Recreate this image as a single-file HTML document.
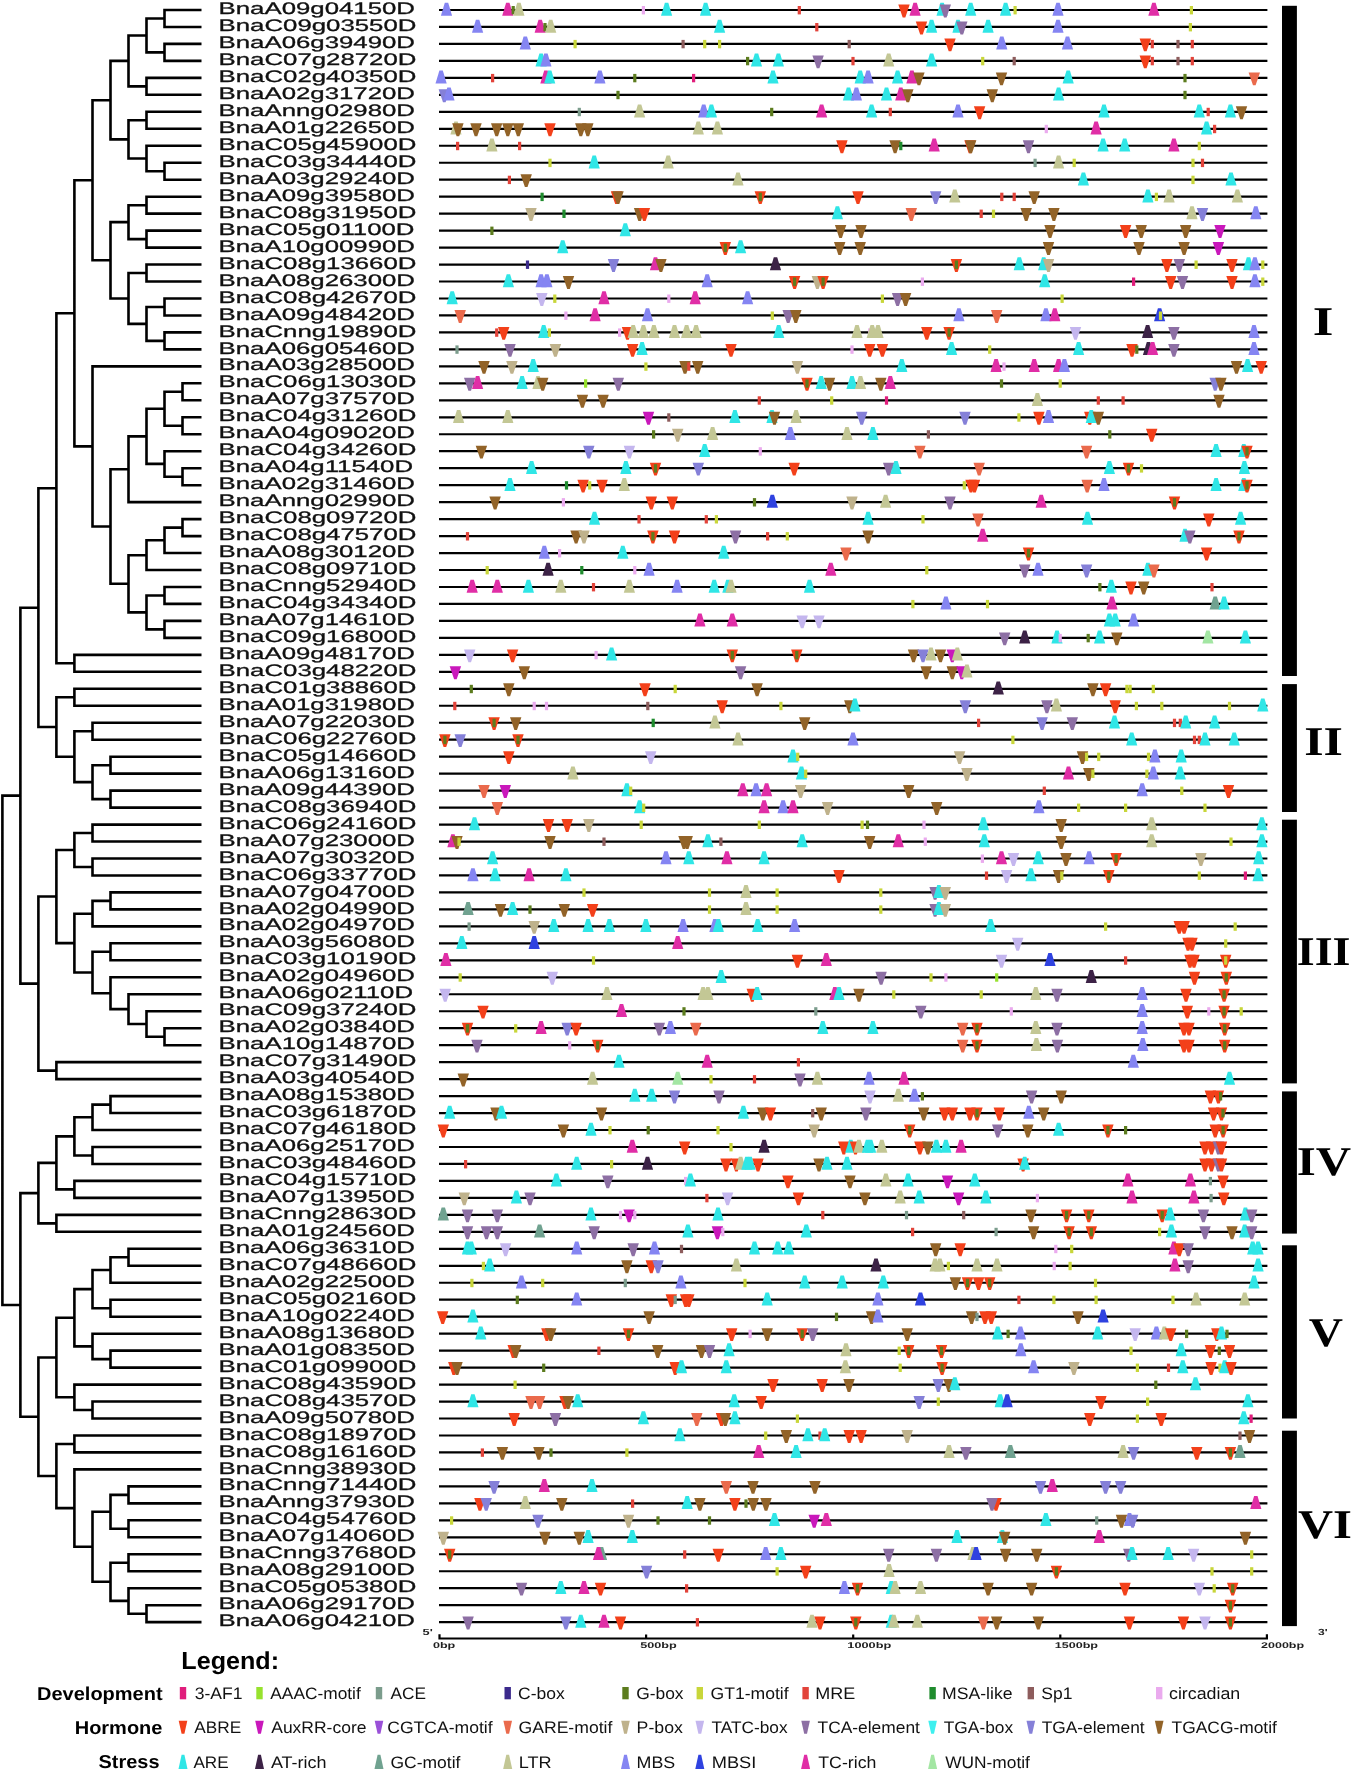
<!DOCTYPE html><html><head><meta charset="utf-8"><title>cis-elements</title>
<style>html,body{margin:0;padding:0;background:#fff;}body{width:1354px;height:1772px;overflow:hidden;}svg{display:block;font-family:"Liberation Sans",sans-serif;will-change:transform;text-rendering:geometricPrecision;}.n{font-size:16.7px;fill:#111;stroke:#111;stroke-width:0.3px;}.rn{font-family:"Liberation Serif",serif;font-weight:bold;fill:#000;}.ax{font-weight:bold;fill:#222;}.lg{fill:#111;}.lh{font-weight:bold;fill:#000;}</style></head><body>
<svg width="1354" height="1772" viewBox="0 0 1354 1772">
<path d="M163.2 10.0H201.5M163.2 27.0H201.5M164.5 8.7V28.3M145.2 18.5H164.5M163.2 43.9H201.5M163.2 60.9H201.5M164.5 42.6V62.2M145.2 52.4H164.5M146.5 17.2V53.7M127.2 35.5H146.5M145.2 77.9H201.5M145.2 94.8H201.5M146.5 76.6V96.1M127.2 86.4H146.5M128.5 34.2V87.7M109.2 60.9H128.5M145.2 111.8H201.5M145.2 128.8H201.5M146.5 110.5V130.1M127.2 120.3H146.5M145.2 145.8H201.5M163.2 162.7H201.5M163.2 179.7H201.5M164.5 161.4V181.0M145.2 171.2H164.5M146.5 144.5V172.5M127.2 158.5H146.5M128.5 119.0V159.8M109.2 139.4H128.5M110.5 59.6V140.7M91.2 100.2H110.5M145.2 196.7H201.5M145.2 213.6H201.5M146.5 195.4V214.9M127.2 205.2H146.5M145.2 230.6H201.5M145.2 247.6H201.5M146.5 229.3V248.9M127.2 239.1H146.5M128.5 203.9V240.4M109.2 222.1H128.5M145.2 264.5H201.5M145.2 281.5H201.5M146.5 263.2V282.8M127.2 273.0H146.5M163.2 298.5H201.5M163.2 315.5H201.5M164.5 297.2V316.8M145.2 307.0H164.5M163.2 332.4H201.5M163.2 349.4H201.5M164.5 331.1V350.7M145.2 340.9H164.5M146.5 305.7V342.2M127.2 323.9H146.5M128.5 271.7V325.2M109.2 298.5H128.5M110.5 220.8V299.8M91.2 260.3H110.5M92.5 98.9V261.6M73.1 180.2H92.5M91.2 366.4H201.5M181.2 383.3H201.5M181.2 400.3H201.5M182.5 382.0V401.6M163.2 391.8H182.5M181.2 417.3H201.5M181.2 434.2H201.5M182.5 416.0V435.6M163.2 425.8H182.5M164.5 390.5V427.1M145.2 408.8H164.5M163.2 451.2H201.5M181.2 468.2H201.5M181.2 485.2H201.5M182.5 466.9V486.5M163.2 476.7H182.5M164.5 449.9V478.0M145.2 463.9H164.5M146.5 407.5V465.2M127.2 436.4H146.5M127.2 502.1H201.5M128.5 435.1V503.4M109.2 469.3H128.5M181.2 519.1H201.5M181.2 536.1H201.5M182.5 517.8V537.4M163.2 527.6H182.5M163.2 553.0H201.5M164.5 526.3V554.3M145.2 540.3H164.5M145.2 570.0H201.5M146.5 539.0V571.3M127.2 555.2H146.5M163.2 587.0H201.5M163.2 603.9H201.5M164.5 585.7V605.2M145.2 595.5H164.5M163.2 620.9H201.5M163.2 637.9H201.5M164.5 619.6V639.2M145.2 629.4H164.5M146.5 594.2V630.7M127.2 612.4H146.5M128.5 553.9V613.7M109.2 583.8H128.5M110.5 468.0V585.1M91.2 526.5H110.5M92.5 365.1V527.8M73.1 446.4H92.5M74.4 178.9V447.7M55.1 313.3H74.4M73.1 654.9H201.5M73.1 671.8H201.5M74.4 653.6V673.1M55.1 663.3H74.4M56.4 312.0V664.6M37.1 488.3H56.4M73.1 688.8H201.5M73.1 705.8H201.5M74.4 687.5V707.1M55.1 697.3H74.4M91.2 722.7H201.5M91.2 739.7H201.5M92.5 721.4V741.0M73.1 731.2H92.5M109.2 756.7H201.5M109.2 773.6H201.5M110.5 755.4V774.9M91.2 765.2H110.5M109.2 790.6H201.5M109.2 807.6H201.5M110.5 789.3V808.9M91.2 799.1H110.5M92.5 763.9V800.4M73.1 782.1H92.5M74.4 729.9V783.4M55.1 756.7H74.4M56.4 696.0V758.0M37.1 727.0H56.4M38.4 487.0V728.3M19.1 607.7H38.4M91.2 824.6H201.5M91.2 841.5H201.5M92.5 823.3V842.8M73.1 833.0H92.5M91.2 858.5H201.5M91.2 875.5H201.5M92.5 857.2V876.8M73.1 867.0H92.5M74.4 831.7V868.3M55.1 850.0H74.4M109.2 892.4H201.5M109.2 909.4H201.5M110.5 891.1V910.7M91.2 900.9H110.5M91.2 926.4H201.5M92.5 899.6V927.7M73.1 913.7H92.5M109.2 943.3H201.5M109.2 960.3H201.5M110.5 942.0V961.6M91.2 951.8H110.5M109.2 977.3H201.5M127.2 994.3H201.5M145.2 1011.2H201.5M163.2 1028.2H201.5M163.2 1045.2H201.5M164.5 1026.9V1046.5M145.2 1036.7H164.5M146.5 1009.9V1038.0M127.2 1024.0H146.5M128.5 993.0V1025.3M109.2 1009.1H128.5M110.5 976.0V1010.4M91.2 993.2H110.5M92.5 950.5V994.5M73.1 972.5H92.5M74.4 912.4V973.8M55.1 943.1H74.4M56.4 848.7V944.4M37.1 896.5H56.4M55.1 1062.1H201.5M55.1 1079.1H201.5M56.4 1060.8V1080.4M37.1 1070.6H56.4M38.4 895.2V1071.9M19.1 983.6H38.4M20.4 606.4V984.9M1.1 795.6H20.4M109.2 1096.1H201.5M109.2 1113.0H201.5M110.5 1094.8V1114.3M91.2 1104.6H110.5M91.2 1130.0H201.5M92.5 1103.3V1131.3M73.1 1117.3H92.5M91.2 1147.0H201.5M91.2 1164.0H201.5M92.5 1145.7V1165.3M73.1 1155.5H92.5M74.4 1116.0V1156.8M55.1 1136.4H74.4M73.1 1180.9H201.5M73.1 1197.9H201.5M74.4 1179.6V1199.2M55.1 1189.4H74.4M56.4 1135.1V1190.7M37.1 1162.9H56.4M55.1 1214.9H201.5M55.1 1231.8H201.5M56.4 1213.6V1233.1M37.1 1223.4H56.4M38.4 1161.6V1224.7M19.1 1193.1H38.4M127.2 1248.8H201.5M127.2 1265.8H201.5M128.5 1247.5V1267.1M109.2 1257.3H128.5M109.2 1282.8H201.5M110.5 1256.0V1284.0M91.2 1270.0H110.5M109.2 1299.7H201.5M109.2 1316.7H201.5M110.5 1298.4V1318.0M91.2 1308.2H110.5M92.5 1268.7V1309.5M73.1 1289.1H92.5M91.2 1333.7H201.5M109.2 1350.6H201.5M109.2 1367.6H201.5M110.5 1349.3V1368.9M91.2 1359.1H110.5M92.5 1332.4V1360.4M73.1 1346.4H92.5M74.4 1287.8V1347.7M55.1 1317.8H74.4M73.1 1384.6H201.5M91.2 1401.5H201.5M91.2 1418.5H201.5M92.5 1400.2V1419.8M73.1 1410.0H92.5M74.4 1383.3V1411.3M55.1 1397.3H74.4M56.4 1316.5V1398.6M37.1 1357.5H56.4M73.1 1435.5H201.5M73.1 1452.4H201.5M74.4 1434.2V1453.7M55.1 1444.0H74.4M73.1 1469.4H201.5M127.2 1486.4H201.5M127.2 1503.4H201.5M128.5 1485.1V1504.7M109.2 1494.9H128.5M127.2 1520.3H201.5M127.2 1537.3H201.5M128.5 1519.0V1538.6M109.2 1528.8H128.5M110.5 1493.6V1530.1M91.2 1511.8H110.5M127.2 1554.3H201.5M127.2 1571.2H201.5M128.5 1553.0V1572.5M109.2 1562.8H128.5M127.2 1588.2H201.5M145.2 1605.2H201.5M145.2 1622.1H201.5M146.5 1603.9V1623.4M127.2 1613.7H146.5M128.5 1586.9V1615.0M109.2 1600.9H128.5M110.5 1561.5V1602.2M91.2 1581.8H110.5M92.5 1510.5V1583.1M73.1 1546.8H92.5M74.4 1468.1V1548.1M55.1 1508.1H74.4M56.4 1442.7V1509.4M37.1 1476.0H56.4M38.4 1356.2V1477.3M19.1 1416.8H38.4M20.4 1191.8V1418.1M1.1 1305.0H20.4M2.4 794.3V1306.3" stroke="#000" stroke-width="2.6" fill="none"/>
<text class="n" transform="translate(218.54 14.10) scale(1.5454 1)">BnaA09g04150D</text>
<text class="n" transform="translate(218.54 31.07) scale(1.5454 1)">BnaC09g03550D</text>
<text class="n" transform="translate(218.54 48.04) scale(1.5454 1)">BnaA06g39490D</text>
<text class="n" transform="translate(218.54 65.01) scale(1.5454 1)">BnaC07g28720D</text>
<text class="n" transform="translate(218.54 81.98) scale(1.5454 1)">BnaC02g40350D</text>
<text class="n" transform="translate(218.54 98.95) scale(1.5454 1)">BnaA02g31720D</text>
<text class="n" transform="translate(218.54 115.92) scale(1.5454 1)">BnaAnng02980D</text>
<text class="n" transform="translate(218.54 132.89) scale(1.5454 1)">BnaA01g22650D</text>
<text class="n" transform="translate(218.54 149.86) scale(1.5454 1)">BnaC05g45900D</text>
<text class="n" transform="translate(218.54 166.83) scale(1.5454 1)">BnaC03g34440D</text>
<text class="n" transform="translate(218.54 183.80) scale(1.5454 1)">BnaA03g29240D</text>
<text class="n" transform="translate(218.54 200.77) scale(1.5454 1)">BnaA09g39580D</text>
<text class="n" transform="translate(218.54 217.74) scale(1.5454 1)">BnaC08g31950D</text>
<text class="n" transform="translate(218.54 234.71) scale(1.5454 1)">BnaC05g01100D</text>
<text class="n" transform="translate(218.54 251.68) scale(1.5454 1)">BnaA10g00990D</text>
<text class="n" transform="translate(218.54 268.65) scale(1.5454 1)">BnaC08g13660D</text>
<text class="n" transform="translate(218.54 285.62) scale(1.5454 1)">BnaA08g26300D</text>
<text class="n" transform="translate(218.54 302.59) scale(1.5454 1)">BnaC08g42670D</text>
<text class="n" transform="translate(218.54 319.56) scale(1.5454 1)">BnaA09g48420D</text>
<text class="n" transform="translate(218.54 336.53) scale(1.5454 1)">BnaCnng19890D</text>
<text class="n" transform="translate(218.54 353.50) scale(1.5454 1)">BnaA06g05460D</text>
<text class="n" transform="translate(218.54 370.47) scale(1.5454 1)">BnaA03g28500D</text>
<text class="n" transform="translate(218.54 387.44) scale(1.5454 1)">BnaC06g13030D</text>
<text class="n" transform="translate(218.54 404.41) scale(1.5454 1)">BnaA07g37570D</text>
<text class="n" transform="translate(218.54 421.38) scale(1.5454 1)">BnaC04g31260D</text>
<text class="n" transform="translate(218.54 438.35) scale(1.5454 1)">BnaA04g09020D</text>
<text class="n" transform="translate(218.54 455.32) scale(1.5454 1)">BnaC04g34260D</text>
<text class="n" transform="translate(218.54 472.29) scale(1.5454 1)">BnaA04g11540D</text>
<text class="n" transform="translate(218.54 489.26) scale(1.5454 1)">BnaA02g31460D</text>
<text class="n" transform="translate(218.54 506.23) scale(1.5454 1)">BnaAnng02990D</text>
<text class="n" transform="translate(218.54 523.20) scale(1.5454 1)">BnaC08g09720D</text>
<text class="n" transform="translate(218.54 540.17) scale(1.5454 1)">BnaC08g47570D</text>
<text class="n" transform="translate(218.54 557.14) scale(1.5454 1)">BnaA08g30120D</text>
<text class="n" transform="translate(218.54 574.11) scale(1.5454 1)">BnaC08g09710D</text>
<text class="n" transform="translate(218.54 591.08) scale(1.5454 1)">BnaCnng52940D</text>
<text class="n" transform="translate(218.54 608.05) scale(1.5454 1)">BnaC04g34340D</text>
<text class="n" transform="translate(218.54 625.02) scale(1.5454 1)">BnaA07g14610D</text>
<text class="n" transform="translate(218.54 641.99) scale(1.5454 1)">BnaC09g16800D</text>
<text class="n" transform="translate(218.54 658.96) scale(1.5454 1)">BnaA09g48170D</text>
<text class="n" transform="translate(218.54 675.93) scale(1.5454 1)">BnaC03g48220D</text>
<text class="n" transform="translate(218.54 692.90) scale(1.5454 1)">BnaC01g38860D</text>
<text class="n" transform="translate(218.54 709.87) scale(1.5454 1)">BnaA01g31980D</text>
<text class="n" transform="translate(218.54 726.84) scale(1.5454 1)">BnaA07g22030D</text>
<text class="n" transform="translate(218.54 743.81) scale(1.5454 1)">BnaC06g22760D</text>
<text class="n" transform="translate(218.54 760.78) scale(1.5454 1)">BnaC05g14660D</text>
<text class="n" transform="translate(218.54 777.75) scale(1.5454 1)">BnaA06g13160D</text>
<text class="n" transform="translate(218.54 794.72) scale(1.5454 1)">BnaA09g44390D</text>
<text class="n" transform="translate(218.54 811.69) scale(1.5454 1)">BnaC08g36940D</text>
<text class="n" transform="translate(218.54 828.66) scale(1.5454 1)">BnaC06g24160D</text>
<text class="n" transform="translate(218.54 845.63) scale(1.5454 1)">BnaA07g23000D</text>
<text class="n" transform="translate(218.54 862.60) scale(1.5454 1)">BnaA07g30320D</text>
<text class="n" transform="translate(218.54 879.57) scale(1.5454 1)">BnaC06g33770D</text>
<text class="n" transform="translate(218.54 896.54) scale(1.5454 1)">BnaA07g04700D</text>
<text class="n" transform="translate(218.54 913.51) scale(1.5454 1)">BnaA02g04990D</text>
<text class="n" transform="translate(218.54 930.48) scale(1.5454 1)">BnaA02g04970D</text>
<text class="n" transform="translate(218.54 947.45) scale(1.5454 1)">BnaA03g56080D</text>
<text class="n" transform="translate(218.54 964.42) scale(1.5454 1)">BnaC03g10190D</text>
<text class="n" transform="translate(218.54 981.39) scale(1.5454 1)">BnaA02g04960D</text>
<text class="n" transform="translate(218.54 998.36) scale(1.5454 1)">BnaA06g02110D</text>
<text class="n" transform="translate(218.54 1015.33) scale(1.5454 1)">BnaC09g37240D</text>
<text class="n" transform="translate(218.54 1032.30) scale(1.5454 1)">BnaA02g03840D</text>
<text class="n" transform="translate(218.54 1049.27) scale(1.5454 1)">BnaA10g14870D</text>
<text class="n" transform="translate(218.54 1066.24) scale(1.5454 1)">BnaC07g31490D</text>
<text class="n" transform="translate(218.54 1083.21) scale(1.5454 1)">BnaA03g40540D</text>
<text class="n" transform="translate(218.54 1100.18) scale(1.5454 1)">BnaA08g15380D</text>
<text class="n" transform="translate(218.54 1117.15) scale(1.5454 1)">BnaC03g61870D</text>
<text class="n" transform="translate(218.54 1134.12) scale(1.5454 1)">BnaC07g46180D</text>
<text class="n" transform="translate(218.54 1151.09) scale(1.5454 1)">BnaA06g25170D</text>
<text class="n" transform="translate(218.54 1168.06) scale(1.5454 1)">BnaC03g48460D</text>
<text class="n" transform="translate(218.54 1185.03) scale(1.5454 1)">BnaC04g15710D</text>
<text class="n" transform="translate(218.54 1202.00) scale(1.5454 1)">BnaA07g13950D</text>
<text class="n" transform="translate(218.54 1218.97) scale(1.5454 1)">BnaCnng28630D</text>
<text class="n" transform="translate(218.54 1235.94) scale(1.5454 1)">BnaA01g24560D</text>
<text class="n" transform="translate(218.54 1252.91) scale(1.5454 1)">BnaA06g36310D</text>
<text class="n" transform="translate(218.54 1269.88) scale(1.5454 1)">BnaC07g48660D</text>
<text class="n" transform="translate(218.54 1286.85) scale(1.5454 1)">BnaA02g22500D</text>
<text class="n" transform="translate(218.54 1303.82) scale(1.5454 1)">BnaC05g02160D</text>
<text class="n" transform="translate(218.54 1320.79) scale(1.5454 1)">BnaA10g02240D</text>
<text class="n" transform="translate(218.54 1337.76) scale(1.5454 1)">BnaA08g13680D</text>
<text class="n" transform="translate(218.54 1354.73) scale(1.5454 1)">BnaA01g08350D</text>
<text class="n" transform="translate(218.54 1371.70) scale(1.5454 1)">BnaC01g09900D</text>
<text class="n" transform="translate(218.54 1388.67) scale(1.5454 1)">BnaC08g43590D</text>
<text class="n" transform="translate(218.54 1405.64) scale(1.5454 1)">BnaC08g43570D</text>
<text class="n" transform="translate(218.54 1422.61) scale(1.5454 1)">BnaA09g50780D</text>
<text class="n" transform="translate(218.54 1439.58) scale(1.5454 1)">BnaC08g18970D</text>
<text class="n" transform="translate(218.54 1456.55) scale(1.5454 1)">BnaC08g16160D</text>
<text class="n" transform="translate(218.54 1473.52) scale(1.5454 1)">BnaCnng38930D</text>
<text class="n" transform="translate(218.54 1490.49) scale(1.5454 1)">BnaCnng71440D</text>
<text class="n" transform="translate(218.54 1507.46) scale(1.5454 1)">BnaAnng37930D</text>
<text class="n" transform="translate(218.54 1524.43) scale(1.5454 1)">BnaC04g54760D</text>
<text class="n" transform="translate(218.54 1541.40) scale(1.5454 1)">BnaA07g14060D</text>
<text class="n" transform="translate(218.54 1558.37) scale(1.5454 1)">BnaCnng37680D</text>
<text class="n" transform="translate(218.54 1575.34) scale(1.5454 1)">BnaA08g29100D</text>
<text class="n" transform="translate(218.54 1592.31) scale(1.5454 1)">BnaC05g05380D</text>
<text class="n" transform="translate(218.54 1609.28) scale(1.5454 1)">BnaA06g29170D</text>
<text class="n" transform="translate(218.54 1626.25) scale(1.5454 1)">BnaA06g04210D</text>
<path d="M439.0 10.00H1267.4M439.0 26.97H1267.4M439.0 43.94H1267.4M439.0 60.91H1267.4M439.0 77.88H1267.4M439.0 94.85H1267.4M439.0 111.82H1267.4M439.0 128.79H1267.4M439.0 145.76H1267.4M439.0 162.73H1267.4M439.0 179.70H1267.4M439.0 196.67H1267.4M439.0 213.64H1267.4M439.0 230.61H1267.4M439.0 247.58H1267.4M439.0 264.55H1267.4M439.0 281.52H1267.4M439.0 298.49H1267.4M439.0 315.46H1267.4M439.0 332.43H1267.4M439.0 349.40H1267.4M439.0 366.37H1267.4M439.0 383.34H1267.4M439.0 400.31H1267.4M439.0 417.28H1267.4M439.0 434.25H1267.4M439.0 451.22H1267.4M439.0 468.19H1267.4M439.0 485.16H1267.4M439.0 502.13H1267.4M439.0 519.10H1267.4M439.0 536.07H1267.4M439.0 553.04H1267.4M439.0 570.01H1267.4M439.0 586.98H1267.4M439.0 603.95H1267.4M439.0 620.92H1267.4M439.0 637.89H1267.4M439.0 654.86H1267.4M439.0 671.83H1267.4M439.0 688.80H1267.4M439.0 705.77H1267.4M439.0 722.74H1267.4M439.0 739.71H1267.4M439.0 756.68H1267.4M439.0 773.65H1267.4M439.0 790.62H1267.4M439.0 807.59H1267.4M439.0 824.56H1267.4M439.0 841.53H1267.4M439.0 858.50H1267.4M439.0 875.47H1267.4M439.0 892.44H1267.4M439.0 909.41H1267.4M439.0 926.38H1267.4M439.0 943.35H1267.4M439.0 960.32H1267.4M439.0 977.29H1267.4M439.0 994.26H1267.4M439.0 1011.23H1267.4M439.0 1028.20H1267.4M439.0 1045.17H1267.4M439.0 1062.14H1267.4M439.0 1079.11H1267.4M439.0 1096.08H1267.4M439.0 1113.05H1267.4M439.0 1130.02H1267.4M439.0 1146.99H1267.4M439.0 1163.96H1267.4M439.0 1180.93H1267.4M439.0 1197.90H1267.4M439.0 1214.87H1267.4M439.0 1231.84H1267.4M439.0 1248.81H1267.4M439.0 1265.78H1267.4M439.0 1282.75H1267.4M439.0 1299.72H1267.4M439.0 1316.69H1267.4M439.0 1333.66H1267.4M439.0 1350.63H1267.4M439.0 1367.60H1267.4M439.0 1384.57H1267.4M439.0 1401.54H1267.4M439.0 1418.51H1267.4M439.0 1435.48H1267.4M439.0 1452.45H1267.4M439.0 1469.42H1267.4M439.0 1486.39H1267.4M439.0 1503.36H1267.4M439.0 1520.33H1267.4M439.0 1537.30H1267.4M439.0 1554.27H1267.4M439.0 1571.24H1267.4M439.0 1588.21H1267.4M439.0 1605.18H1267.4M439.0 1622.15H1267.4" stroke="#000" stroke-width="2.2" fill="none"/>
<path d="M444.8 2.7h3.4l3.9 13h-11.2z" fill="#8585f2"/>
<path d="M506.1 2.7h3.4l3.9 13h-11.2z" fill="#e02ea6"/>
<rect x="511.6" y="6.0" width="3.2" height="8.4" fill="#5c7c1e"/>
<path d="M517.2 2.7h3.4l3.9 13h-11.2z" fill="#c3c795"/>
<rect x="641.8" y="6.0" width="3.2" height="8.4" fill="#eaaaee"/>
<path d="M664.9 2.7h3.4l3.9 13h-11.2z" fill="#30e6e6"/>
<path d="M703.9 2.7h3.4l3.9 13h-11.2z" fill="#30e6e6"/>
<rect x="797.7" y="6.0" width="3.2" height="8.4" fill="#e2433a"/>
<path d="M898.3 4.5h11.4l-4.4 12.9h-2.6z" fill="#f3401a"/>
<path d="M913.4 2.7h3.4l3.9 13h-11.2z" fill="#e02ea6"/>
<path d="M940.4 2.7h3.4l3.9 13h-11.2z" fill="#30e6e6"/>
<path d="M939.6 4.5h11.4l-4.4 12.9h-2.6z" fill="#8d6fa4"/>
<path d="M969.0 2.7h3.4l3.9 13h-11.2z" fill="#30e6e6"/>
<path d="M1003.9 2.7h3.4l3.9 13h-11.2z" fill="#30e6e6"/>
<rect x="1013.5" y="6.0" width="3.2" height="8.4" fill="#c8d63a"/>
<path d="M1056.3 2.7h3.4l3.9 13h-11.2z" fill="#8585f2"/>
<path d="M1152.2 2.7h3.4l3.9 13h-11.2z" fill="#e02ea6"/>
<rect x="1189.8" y="6.0" width="3.2" height="8.4" fill="#c8d63a"/>
<path d="M475.9 19.7h3.4l3.9 13h-11.2z" fill="#8585f2"/>
<path d="M538.5 19.7h3.4l3.9 13h-11.2z" fill="#e02ea6"/>
<rect x="543.4" y="23.0" width="3.2" height="8.4" fill="#5c7c1e"/>
<path d="M549.0 19.7h3.4l3.9 13h-11.2z" fill="#c3c795"/>
<path d="M717.9 19.7h3.4l3.9 13h-11.2z" fill="#30e6e6"/>
<rect x="815.2" y="23.0" width="3.2" height="8.4" fill="#e2433a"/>
<path d="M915.8 21.5h11.4l-4.4 12.9h-2.6z" fill="#f3401a"/>
<path d="M929.9 19.7h3.4l3.9 13h-11.2z" fill="#30e6e6"/>
<path d="M956.3 19.7h3.4l3.9 13h-11.2z" fill="#30e6e6"/>
<path d="M956.1 21.5h11.4l-4.4 12.9h-2.6z" fill="#8d6fa4"/>
<path d="M986.4 19.7h3.4l3.9 13h-11.2z" fill="#30e6e6"/>
<path d="M1056.3 19.7h3.4l3.9 13h-11.2z" fill="#8585f2"/>
<rect x="1188.8" y="23.0" width="3.2" height="8.4" fill="#c8d63a"/>
<path d="M523.6 36.6h3.4l3.9 13h-11.2z" fill="#8585f2"/>
<rect x="573.5" y="39.9" width="3.2" height="8.4" fill="#c8d63a"/>
<rect x="681.5" y="39.9" width="3.2" height="8.4" fill="#8d5c5c"/>
<rect x="703.1" y="39.9" width="3.2" height="8.4" fill="#c8d63a"/>
<rect x="718.0" y="39.9" width="3.2" height="8.4" fill="#c8d63a"/>
<rect x="847.6" y="39.9" width="3.2" height="8.4" fill="#8d5c5c"/>
<path d="M944.3 38.4h11.4l-4.4 12.9h-2.6z" fill="#f3401a"/>
<path d="M1000.1 36.6h3.4l3.9 13h-11.2z" fill="#8585f2"/>
<path d="M1065.8 36.6h3.4l3.9 13h-11.2z" fill="#8585f2"/>
<path d="M1139.6 38.4h11.4l-4.4 12.9h-2.6z" fill="#f3401a"/>
<rect x="1150.7" y="39.9" width="3.2" height="8.4" fill="#e2433a"/>
<rect x="1176.4" y="39.9" width="3.2" height="8.4" fill="#8d5c5c"/>
<rect x="1190.7" y="39.9" width="3.2" height="8.4" fill="#e2433a"/>
<path d="M539.4 53.6h3.4l3.9 13h-11.2z" fill="#30e6e6"/>
<path d="M544.2 53.6h3.4l3.9 13h-11.2z" fill="#8585f2"/>
<rect x="746.0" y="56.9" width="3.2" height="8.4" fill="#5c7c1e"/>
<path d="M754.8 53.6h3.4l3.9 13h-11.2z" fill="#30e6e6"/>
<path d="M776.7 53.6h3.4l3.9 13h-11.2z" fill="#30e6e6"/>
<path d="M812.4 55.4h11.4l-4.4 12.9h-2.6z" fill="#8d6fa4"/>
<rect x="851.4" y="56.9" width="3.2" height="8.4" fill="#e2433a"/>
<path d="M887.0 53.6h3.4l3.9 13h-11.2z" fill="#c3c795"/>
<path d="M929.9 53.6h3.4l3.9 13h-11.2z" fill="#30e6e6"/>
<rect x="981.1" y="56.9" width="3.2" height="8.4" fill="#c8d63a"/>
<rect x="1012.6" y="56.9" width="3.2" height="8.4" fill="#8d5c5c"/>
<path d="M1139.6 55.4h11.4l-4.4 12.9h-2.6z" fill="#f3401a"/>
<rect x="1150.7" y="56.9" width="3.2" height="8.4" fill="#e2433a"/>
<rect x="1176.4" y="56.9" width="3.2" height="8.4" fill="#8d5c5c"/>
<rect x="1190.7" y="56.9" width="3.2" height="8.4" fill="#e2433a"/>
<path d="M439.4 70.6h3.4l3.9 13h-11.2z" fill="#8585f2"/>
<rect x="491.0" y="73.9" width="3.2" height="8.4" fill="#e2433a"/>
<path d="M544.2 70.6h3.4l3.9 13h-11.2z" fill="#e02ea6"/>
<path d="M548.0 70.6h3.4l3.9 13h-11.2z" fill="#30e6e6"/>
<path d="M598.2 70.6h3.4l3.9 13h-11.2z" fill="#8585f2"/>
<rect x="633.2" y="73.9" width="3.2" height="8.4" fill="#5c7c1e"/>
<rect x="692.0" y="73.9" width="3.2" height="8.4" fill="#e01e7c"/>
<path d="M771.3 70.6h3.4l3.9 13h-11.2z" fill="#30e6e6"/>
<path d="M858.5 70.6h3.4l3.9 13h-11.2z" fill="#30e6e6"/>
<path d="M866.4 70.6h3.4l3.9 13h-11.2z" fill="#8585f2"/>
<path d="M895.9 70.6h3.4l3.9 13h-11.2z" fill="#30e6e6"/>
<path d="M910.2 70.6h3.4l3.9 13h-11.2z" fill="#e02ea6"/>
<path d="M913.2 72.4h11.4l-4.4 12.9h-2.6z" fill="#926328"/>
<path d="M995.8 72.4h11.4l-4.4 12.9h-2.6z" fill="#926328"/>
<path d="M1066.5 70.6h3.4l3.9 13h-11.2z" fill="#30e6e6"/>
<rect x="1183.4" y="73.9" width="3.2" height="8.4" fill="#5c7c1e"/>
<path d="M1248.6 72.4h11.4l-4.4 12.9h-2.6z" fill="#ea6a4c"/>
<path d="M438.6 89.3h11.4l-4.4 12.9h-2.6z" fill="#8580d8"/>
<path d="M447.3 87.5h3.4l3.9 13h-11.2z" fill="#8585f2"/>
<rect x="616.4" y="90.8" width="3.2" height="8.4" fill="#5c7c1e"/>
<path d="M846.8 87.5h3.4l3.9 13h-11.2z" fill="#30e6e6"/>
<path d="M854.7 87.5h3.4l3.9 13h-11.2z" fill="#8585f2"/>
<path d="M884.8 87.5h3.4l3.9 13h-11.2z" fill="#30e6e6"/>
<path d="M899.1 87.5h3.4l3.9 13h-11.2z" fill="#e02ea6"/>
<path d="M902.1 89.3h11.4l-4.4 12.9h-2.6z" fill="#926328"/>
<path d="M986.6 89.3h11.4l-4.4 12.9h-2.6z" fill="#926328"/>
<path d="M1056.9 87.5h3.4l3.9 13h-11.2z" fill="#30e6e6"/>
<rect x="1183.4" y="90.8" width="3.2" height="8.4" fill="#5c7c1e"/>
<rect x="577.7" y="107.8" width="3.2" height="8.4" fill="#7b9c8c"/>
<path d="M637.9 104.5h3.4l3.9 13h-11.2z" fill="#c3c795"/>
<path d="M702.0 104.5h3.4l3.9 13h-11.2z" fill="#8585f2"/>
<path d="M709.7 104.5h3.4l3.9 13h-11.2z" fill="#30e6e6"/>
<rect x="770.1" y="107.8" width="3.2" height="8.4" fill="#5c7c1e"/>
<path d="M819.9 104.5h3.4l3.9 13h-11.2z" fill="#e02ea6"/>
<path d="M869.9 104.5h3.4l3.9 13h-11.2z" fill="#30e6e6"/>
<rect x="888.7" y="107.8" width="3.2" height="8.4" fill="#e2433a"/>
<path d="M956.3 104.5h3.4l3.9 13h-11.2z" fill="#8585f2"/>
<path d="M973.9 106.3h11.4l-4.4 12.9h-2.6z" fill="#f3401a"/>
<path d="M1102.3 104.5h3.4l3.9 13h-11.2z" fill="#30e6e6"/>
<path d="M1197.6 104.5h3.4l3.9 13h-11.2z" fill="#30e6e6"/>
<rect x="1206.6" y="107.8" width="3.2" height="8.4" fill="#e2433a"/>
<path d="M1228.7 104.5h3.4l3.9 13h-11.2z" fill="#30e6e6"/>
<path d="M1235.8 106.3h11.4l-4.4 12.9h-2.6z" fill="#926328"/>
<path d="M454.3 121.5h3.4l3.9 13h-11.2z" fill="#c3c795"/>
<path d="M452.2 123.3h11.4l-4.4 12.9h-2.6z" fill="#926328"/>
<path d="M470.3 123.3h11.4l-4.4 12.9h-2.6z" fill="#926328"/>
<path d="M491.0 123.3h11.4l-4.4 12.9h-2.6z" fill="#926328"/>
<path d="M502.1 123.3h11.4l-4.4 12.9h-2.6z" fill="#926328"/>
<path d="M512.6 123.3h11.4l-4.4 12.9h-2.6z" fill="#926328"/>
<path d="M544.3 123.3h11.4l-4.4 12.9h-2.6z" fill="#f3401a"/>
<path d="M575.1 123.3h11.4l-4.4 12.9h-2.6z" fill="#926328"/>
<path d="M582.1 123.3h11.4l-4.4 12.9h-2.6z" fill="#926328"/>
<path d="M696.6 121.5h3.4l3.9 13h-11.2z" fill="#c3c795"/>
<path d="M715.7 121.5h3.4l3.9 13h-11.2z" fill="#c3c795"/>
<rect x="1044.7" y="124.8" width="3.2" height="8.4" fill="#eaaaee"/>
<path d="M1094.4 121.5h3.4l3.9 13h-11.2z" fill="#e02ea6"/>
<path d="M1204.9 121.5h3.4l3.9 13h-11.2z" fill="#30e6e6"/>
<rect x="1213.0" y="124.8" width="3.2" height="8.4" fill="#e2433a"/>
<rect x="456.0" y="141.8" width="3.2" height="8.4" fill="#e2433a"/>
<path d="M490.2 138.5h3.4l3.9 13h-11.2z" fill="#c3c795"/>
<rect x="518.0" y="141.8" width="3.2" height="8.4" fill="#e2433a"/>
<path d="M836.2 140.3h11.4l-4.4 12.9h-2.6z" fill="#f3401a"/>
<path d="M889.4 140.3h11.4l-4.4 12.9h-2.6z" fill="#926328"/>
<rect x="899.2" y="141.8" width="3.2" height="8.4" fill="#1f8c2e"/>
<path d="M932.5 138.5h3.4l3.9 13h-11.2z" fill="#e02ea6"/>
<path d="M964.3 140.3h11.4l-4.4 12.9h-2.6z" fill="#f3401a"/>
<path d="M965.0 140.3h11.4l-4.4 12.9h-2.6z" fill="#926328"/>
<path d="M1022.8 140.3h11.4l-4.4 12.9h-2.6z" fill="#8d6fa4"/>
<path d="M1101.4 138.5h3.4l3.9 13h-11.2z" fill="#30e6e6"/>
<path d="M1123.0 138.5h3.4l3.9 13h-11.2z" fill="#30e6e6"/>
<path d="M1172.2 138.5h3.4l3.9 13h-11.2z" fill="#e02ea6"/>
<rect x="1197.7" y="141.8" width="3.2" height="8.4" fill="#c8d63a"/>
<rect x="548.4" y="158.7" width="3.2" height="8.4" fill="#c8d63a"/>
<path d="M592.5 155.4h3.4l3.9 13h-11.2z" fill="#30e6e6"/>
<path d="M666.5 155.4h3.4l3.9 13h-11.2z" fill="#c3c795"/>
<rect x="1033.5" y="158.7" width="3.2" height="8.4" fill="#7b9c8c"/>
<path d="M1056.9 155.4h3.4l3.9 13h-11.2z" fill="#c3c795"/>
<rect x="1072.6" y="158.7" width="3.2" height="8.4" fill="#c8d63a"/>
<rect x="1191.4" y="158.7" width="3.2" height="8.4" fill="#c8d63a"/>
<rect x="1200.9" y="158.7" width="3.2" height="8.4" fill="#e2433a"/>
<rect x="507.8" y="175.7" width="3.2" height="8.4" fill="#e2433a"/>
<path d="M520.5 174.2h11.4l-4.4 12.9h-2.6z" fill="#926328"/>
<path d="M736.3 172.4h3.4l3.9 13h-11.2z" fill="#c3c795"/>
<path d="M1081.7 172.4h3.4l3.9 13h-11.2z" fill="#30e6e6"/>
<rect x="1191.4" y="175.7" width="3.2" height="8.4" fill="#c8d63a"/>
<path d="M1229.3 172.4h3.4l3.9 13h-11.2z" fill="#30e6e6"/>
<rect x="540.5" y="192.7" width="3.2" height="8.4" fill="#1f8c2e"/>
<path d="M610.8 191.2h11.4l-4.4 12.9h-2.6z" fill="#f3401a"/>
<path d="M612.3 191.2h11.4l-4.4 12.9h-2.6z" fill="#926328"/>
<path d="M754.6 191.2h11.4l-4.4 12.9h-2.6z" fill="#f3401a"/>
<rect x="758.7" y="192.7" width="3.2" height="8.4" fill="#5c7c1e"/>
<path d="M852.3 191.2h11.4l-4.4 12.9h-2.6z" fill="#f3401a"/>
<path d="M930.0 191.2h11.4l-4.4 12.9h-2.6z" fill="#8580d8"/>
<path d="M953.1 189.4h3.4l3.9 13h-11.2z" fill="#c3c795"/>
<rect x="1000.2" y="192.7" width="3.2" height="8.4" fill="#e2433a"/>
<rect x="1012.6" y="192.7" width="3.2" height="8.4" fill="#e2433a"/>
<path d="M1028.5 191.2h11.4l-4.4 12.9h-2.6z" fill="#926328"/>
<path d="M1146.2 189.4h3.4l3.9 13h-11.2z" fill="#30e6e6"/>
<rect x="1154.8" y="192.7" width="3.2" height="8.4" fill="#c8d63a"/>
<path d="M1167.4 189.4h3.4l3.9 13h-11.2z" fill="#c3c795"/>
<path d="M1235.7 189.4h3.4l3.9 13h-11.2z" fill="#c3c795"/>
<path d="M525.3 208.1h11.4l-4.4 12.9h-2.6z" fill="#bfb28c"/>
<rect x="562.4" y="209.6" width="3.2" height="8.4" fill="#1f8c2e"/>
<path d="M633.9 208.1h11.4l-4.4 12.9h-2.6z" fill="#926328"/>
<path d="M638.7 208.1h11.4l-4.4 12.9h-2.6z" fill="#f3401a"/>
<path d="M835.7 206.3h3.4l3.9 13h-11.2z" fill="#30e6e6"/>
<path d="M905.6 208.1h11.4l-4.4 12.9h-2.6z" fill="#ea6a4c"/>
<rect x="979.6" y="209.6" width="3.2" height="8.4" fill="#e2433a"/>
<rect x="991.9" y="209.6" width="3.2" height="8.4" fill="#c8d63a"/>
<path d="M1020.5 208.1h11.4l-4.4 12.9h-2.6z" fill="#926328"/>
<path d="M1048.2 208.1h11.4l-4.4 12.9h-2.6z" fill="#926328"/>
<path d="M1190.3 206.3h3.4l3.9 13h-11.2z" fill="#c3c795"/>
<path d="M1196.8 208.1h11.4l-4.4 12.9h-2.6z" fill="#8580d8"/>
<path d="M1254.1 206.3h3.4l3.9 13h-11.2z" fill="#8585f2"/>
<rect x="490.3" y="226.6" width="3.2" height="8.4" fill="#5c7c1e"/>
<path d="M623.6 223.3h3.4l3.9 13h-11.2z" fill="#30e6e6"/>
<path d="M834.9 225.1h11.4l-4.4 12.9h-2.6z" fill="#926328"/>
<path d="M855.3 225.1h11.4l-4.4 12.9h-2.6z" fill="#926328"/>
<path d="M1044.3 225.1h11.4l-4.4 12.9h-2.6z" fill="#926328"/>
<path d="M1119.9 225.1h11.4l-4.4 12.9h-2.6z" fill="#f3401a"/>
<path d="M1135.5 225.1h11.4l-4.4 12.9h-2.6z" fill="#926328"/>
<path d="M1180.0 225.1h11.4l-4.4 12.9h-2.6z" fill="#926328"/>
<path d="M1214.3 225.1h11.4l-4.4 12.9h-2.6z" fill="#c918bb"/>
<path d="M561.0 240.3h3.4l3.9 13h-11.2z" fill="#30e6e6"/>
<path d="M719.6 242.1h11.4l-4.4 12.9h-2.6z" fill="#f3401a"/>
<rect x="723.7" y="243.6" width="3.2" height="8.4" fill="#5c7c1e"/>
<path d="M738.9 240.3h3.4l3.9 13h-11.2z" fill="#30e6e6"/>
<path d="M834.0 242.1h11.4l-4.4 12.9h-2.6z" fill="#926328"/>
<path d="M854.5 242.1h11.4l-4.4 12.9h-2.6z" fill="#926328"/>
<path d="M1042.8 242.1h11.4l-4.4 12.9h-2.6z" fill="#926328"/>
<path d="M1133.3 242.1h11.4l-4.4 12.9h-2.6z" fill="#926328"/>
<path d="M1178.4 242.1h11.4l-4.4 12.9h-2.6z" fill="#926328"/>
<path d="M1212.7 242.1h11.4l-4.4 12.9h-2.6z" fill="#c918bb"/>
<rect x="525.9" y="260.5" width="3.2" height="8.4" fill="#3b2a8c"/>
<path d="M607.8 259.0h11.4l-4.4 12.9h-2.6z" fill="#8580d8"/>
<path d="M653.8 257.2h3.4l3.9 13h-11.2z" fill="#e02ea6"/>
<path d="M655.2 259.0h11.4l-4.4 12.9h-2.6z" fill="#926328"/>
<path d="M773.8 257.2h3.4l3.9 13h-11.2z" fill="#3c2246"/>
<path d="M950.7 259.0h11.4l-4.4 12.9h-2.6z" fill="#f3401a"/>
<rect x="954.8" y="260.5" width="3.2" height="8.4" fill="#5c7c1e"/>
<path d="M1017.6 257.2h3.4l3.9 13h-11.2z" fill="#30e6e6"/>
<path d="M1042.0 257.2h3.4l3.9 13h-11.2z" fill="#30e6e6"/>
<path d="M1042.8 259.0h11.4l-4.4 12.9h-2.6z" fill="#bfb28c"/>
<path d="M1161.2 259.0h11.4l-4.4 12.9h-2.6z" fill="#f3401a"/>
<path d="M1173.6 259.0h11.4l-4.4 12.9h-2.6z" fill="#8d6fa4"/>
<rect x="1194.5" y="260.5" width="3.2" height="8.4" fill="#c8d63a"/>
<path d="M1226.3 259.0h11.4l-4.4 12.9h-2.6z" fill="#f3401a"/>
<path d="M1246.8 257.2h3.4l3.9 13h-11.2z" fill="#30e6e6"/>
<path d="M1253.2 257.2h3.4l3.9 13h-11.2z" fill="#8585f2"/>
<rect x="1261.2" y="260.5" width="3.2" height="8.4" fill="#c8d63a"/>
<path d="M506.7 274.2h3.4l3.9 13h-11.2z" fill="#30e6e6"/>
<path d="M539.4 274.2h3.4l3.9 13h-11.2z" fill="#8585f2"/>
<path d="M545.2 274.2h3.4l3.9 13h-11.2z" fill="#8585f2"/>
<path d="M562.8 276.0h11.4l-4.4 12.9h-2.6z" fill="#926328"/>
<path d="M705.5 274.2h3.4l3.9 13h-11.2z" fill="#8585f2"/>
<path d="M788.9 276.0h11.4l-4.4 12.9h-2.6z" fill="#f3401a"/>
<rect x="793.0" y="277.5" width="3.2" height="8.4" fill="#5c7c1e"/>
<path d="M811.7 276.0h11.4l-4.4 12.9h-2.6z" fill="#bfb28c"/>
<path d="M817.4 276.0h11.4l-4.4 12.9h-2.6z" fill="#f3401a"/>
<rect x="821.5" y="277.5" width="3.2" height="8.4" fill="#5c7c1e"/>
<rect x="920.8" y="277.5" width="3.2" height="8.4" fill="#eaaaee"/>
<path d="M1043.0 274.2h3.4l3.9 13h-11.2z" fill="#30e6e6"/>
<rect x="1132.0" y="277.5" width="3.2" height="8.4" fill="#e01e7c"/>
<path d="M1165.0 276.0h11.4l-4.4 12.9h-2.6z" fill="#f3401a"/>
<path d="M1176.8 276.0h11.4l-4.4 12.9h-2.6z" fill="#8d6fa4"/>
<path d="M1226.3 276.0h11.4l-4.4 12.9h-2.6z" fill="#f3401a"/>
<path d="M1253.2 274.2h3.4l3.9 13h-11.2z" fill="#8585f2"/>
<rect x="1261.2" y="277.5" width="3.2" height="8.4" fill="#c8d63a"/>
<path d="M450.5 291.2h3.4l3.9 13h-11.2z" fill="#30e6e6"/>
<path d="M536.1 293.0h11.4l-4.4 12.9h-2.6z" fill="#c4b6ee"/>
<rect x="553.2" y="294.5" width="3.2" height="8.4" fill="#c8d63a"/>
<path d="M602.3 291.2h3.4l3.9 13h-11.2z" fill="#e02ea6"/>
<rect x="667.2" y="294.5" width="3.2" height="8.4" fill="#eaaaee"/>
<path d="M693.5 291.2h3.4l3.9 13h-11.2z" fill="#e02ea6"/>
<path d="M745.9 291.2h3.4l3.9 13h-11.2z" fill="#8585f2"/>
<rect x="880.8" y="294.5" width="3.2" height="8.4" fill="#c8d63a"/>
<path d="M891.9 293.0h11.4l-4.4 12.9h-2.6z" fill="#8d6fa4"/>
<path d="M899.9 293.0h11.4l-4.4 12.9h-2.6z" fill="#926328"/>
<rect x="1060.5" y="294.5" width="3.2" height="8.4" fill="#c8d63a"/>
<path d="M454.5 310.0h11.4l-4.4 12.9h-2.6z" fill="#ea6a4c"/>
<rect x="564.3" y="311.5" width="3.2" height="8.4" fill="#eaaaee"/>
<path d="M593.4 308.2h3.4l3.9 13h-11.2z" fill="#e02ea6"/>
<path d="M645.8 308.2h3.4l3.9 13h-11.2z" fill="#8585f2"/>
<rect x="770.7" y="311.5" width="3.2" height="8.4" fill="#c8d63a"/>
<path d="M782.5 310.0h11.4l-4.4 12.9h-2.6z" fill="#8d6fa4"/>
<path d="M790.1 310.0h11.4l-4.4 12.9h-2.6z" fill="#926328"/>
<path d="M957.2 308.2h3.4l3.9 13h-11.2z" fill="#8585f2"/>
<path d="M991.0 310.0h11.4l-4.4 12.9h-2.6z" fill="#ea6a4c"/>
<path d="M1044.2 308.2h3.4l3.9 13h-11.2z" fill="#8585f2"/>
<path d="M1053.1 308.2h3.4l3.9 13h-11.2z" fill="#e02ea6"/>
<path d="M1157.9 308.2h3.4l3.9 13h-11.2z" fill="#2f42e0"/>
<rect x="1158.9" y="311.5" width="3.2" height="8.4" fill="#c8d63a"/>
<rect x="495.1" y="328.4" width="3.2" height="8.4" fill="#e2433a"/>
<path d="M498.0 326.9h11.4l-4.4 12.9h-2.6z" fill="#f3401a"/>
<path d="M542.0 325.1h3.4l3.9 13h-11.2z" fill="#30e6e6"/>
<rect x="547.8" y="328.4" width="3.2" height="8.4" fill="#c8d63a"/>
<rect x="618.0" y="328.4" width="3.2" height="8.4" fill="#eaaaee"/>
<path d="M621.8 326.9h11.4l-4.4 12.9h-2.6z" fill="#f3401a"/>
<path d="M631.5 325.1h3.4l3.9 13h-11.2z" fill="#c3c795"/>
<path d="M641.7 325.1h3.4l3.9 13h-11.2z" fill="#c3c795"/>
<path d="M652.2 325.1h3.4l3.9 13h-11.2z" fill="#c3c795"/>
<path d="M672.8 325.1h3.4l3.9 13h-11.2z" fill="#c3c795"/>
<path d="M684.9 325.1h3.4l3.9 13h-11.2z" fill="#c3c795"/>
<path d="M694.4 325.1h3.4l3.9 13h-11.2z" fill="#c3c795"/>
<path d="M777.0 325.1h3.4l3.9 13h-11.2z" fill="#30e6e6"/>
<path d="M855.3 325.1h3.4l3.9 13h-11.2z" fill="#c3c795"/>
<rect x="868.1" y="328.4" width="3.2" height="8.4" fill="#eaaaee"/>
<path d="M870.5 325.1h3.4l3.9 13h-11.2z" fill="#c3c795"/>
<path d="M876.3 325.1h3.4l3.9 13h-11.2z" fill="#c3c795"/>
<path d="M921.1 326.9h11.4l-4.4 12.9h-2.6z" fill="#f3401a"/>
<path d="M943.4 326.9h11.4l-4.4 12.9h-2.6z" fill="#f3401a"/>
<rect x="947.5" y="328.4" width="3.2" height="8.4" fill="#5c7c1e"/>
<path d="M1069.8 326.9h11.4l-4.4 12.9h-2.6z" fill="#c4b6ee"/>
<path d="M1145.9 325.1h3.4l3.9 13h-11.2z" fill="#3c2246"/>
<path d="M1168.2 326.9h11.4l-4.4 12.9h-2.6z" fill="#8d6fa4"/>
<path d="M1252.3 325.1h3.4l3.9 13h-11.2z" fill="#8585f2"/>
<rect x="455.4" y="345.4" width="3.2" height="8.4" fill="#7b9c8c"/>
<path d="M504.3 343.9h11.4l-4.4 12.9h-2.6z" fill="#8d6fa4"/>
<path d="M549.7 343.9h11.4l-4.4 12.9h-2.6z" fill="#bfb28c"/>
<path d="M626.9 343.9h11.4l-4.4 12.9h-2.6z" fill="#f3401a"/>
<path d="M640.4 342.1h3.4l3.9 13h-11.2z" fill="#30e6e6"/>
<path d="M725.3 343.9h11.4l-4.4 12.9h-2.6z" fill="#f3401a"/>
<rect x="850.4" y="345.4" width="3.2" height="8.4" fill="#eaaaee"/>
<path d="M864.0 343.9h11.4l-4.4 12.9h-2.6z" fill="#f3401a"/>
<path d="M876.7 343.9h11.4l-4.4 12.9h-2.6z" fill="#f3401a"/>
<path d="M949.9 342.1h3.4l3.9 13h-11.2z" fill="#30e6e6"/>
<rect x="988.1" y="345.4" width="3.2" height="8.4" fill="#c8d63a"/>
<path d="M1076.9 342.1h3.4l3.9 13h-11.2z" fill="#30e6e6"/>
<path d="M1126.3 343.9h11.4l-4.4 12.9h-2.6z" fill="#f3401a"/>
<rect x="1135.2" y="345.4" width="3.2" height="8.4" fill="#5c7c1e"/>
<path d="M1146.8 342.1h3.4l3.9 13h-11.2z" fill="#3c2246"/>
<path d="M1150.9 342.1h3.4l3.9 13h-11.2z" fill="#e02ea6"/>
<path d="M1168.2 343.9h11.4l-4.4 12.9h-2.6z" fill="#8d6fa4"/>
<path d="M1252.3 342.1h3.4l3.9 13h-11.2z" fill="#8585f2"/>
<path d="M478.3 360.9h11.4l-4.4 12.9h-2.6z" fill="#926328"/>
<path d="M506.2 360.9h11.4l-4.4 12.9h-2.6z" fill="#bfb28c"/>
<path d="M531.5 359.1h3.4l3.9 13h-11.2z" fill="#30e6e6"/>
<rect x="644.3" y="362.4" width="3.2" height="8.4" fill="#c8d63a"/>
<path d="M679.3 360.9h11.4l-4.4 12.9h-2.6z" fill="#926328"/>
<rect x="687.2" y="362.4" width="3.2" height="8.4" fill="#e2433a"/>
<path d="M692.0 360.9h11.4l-4.4 12.9h-2.6z" fill="#926328"/>
<path d="M791.7 360.9h11.4l-4.4 12.9h-2.6z" fill="#bfb28c"/>
<path d="M900.1 359.1h3.4l3.9 13h-11.2z" fill="#30e6e6"/>
<path d="M994.4 359.1h3.4l3.9 13h-11.2z" fill="#e02ea6"/>
<rect x="1002.4" y="362.4" width="3.2" height="8.4" fill="#eaaaee"/>
<path d="M1032.5 359.1h3.4l3.9 13h-11.2z" fill="#e02ea6"/>
<path d="M1056.9 359.1h3.4l3.9 13h-11.2z" fill="#e02ea6"/>
<path d="M1062.7 359.1h3.4l3.9 13h-11.2z" fill="#8585f2"/>
<path d="M1230.8 360.9h11.4l-4.4 12.9h-2.6z" fill="#926328"/>
<path d="M1245.9 359.1h3.4l3.9 13h-11.2z" fill="#30e6e6"/>
<path d="M1255.5 360.9h11.4l-4.4 12.9h-2.6z" fill="#f3401a"/>
<path d="M464.0 377.8h11.4l-4.4 12.9h-2.6z" fill="#8d6fa4"/>
<path d="M475.9 376.0h3.4l3.9 13h-11.2z" fill="#e02ea6"/>
<path d="M520.4 376.0h3.4l3.9 13h-11.2z" fill="#30e6e6"/>
<path d="M536.3 376.0h3.4l3.9 13h-11.2z" fill="#c3c795"/>
<path d="M537.0 377.8h11.4l-4.4 12.9h-2.6z" fill="#926328"/>
<rect x="584.0" y="379.3" width="3.2" height="8.4" fill="#97e22e"/>
<path d="M612.6 377.8h11.4l-4.4 12.9h-2.6z" fill="#8d6fa4"/>
<path d="M801.3 377.8h11.4l-4.4 12.9h-2.6z" fill="#f3401a"/>
<rect x="805.4" y="379.3" width="3.2" height="8.4" fill="#5c7c1e"/>
<path d="M819.5 376.0h3.4l3.9 13h-11.2z" fill="#30e6e6"/>
<path d="M823.8 377.8h11.4l-4.4 12.9h-2.6z" fill="#926328"/>
<path d="M850.3 376.0h3.4l3.9 13h-11.2z" fill="#30e6e6"/>
<path d="M858.8 376.0h3.4l3.9 13h-11.2z" fill="#c3c795"/>
<path d="M875.1 377.8h11.4l-4.4 12.9h-2.6z" fill="#926328"/>
<path d="M888.6 376.0h3.4l3.9 13h-11.2z" fill="#e02ea6"/>
<rect x="999.9" y="379.3" width="3.2" height="8.4" fill="#5c7c1e"/>
<rect x="1058.6" y="379.3" width="3.2" height="8.4" fill="#c8d63a"/>
<path d="M1209.5 377.8h11.4l-4.4 12.9h-2.6z" fill="#8580d8"/>
<path d="M1215.2 377.8h11.4l-4.4 12.9h-2.6z" fill="#926328"/>
<path d="M576.7 394.8h11.4l-4.4 12.9h-2.6z" fill="#926328"/>
<path d="M597.4 394.8h11.4l-4.4 12.9h-2.6z" fill="#926328"/>
<rect x="757.7" y="396.3" width="3.2" height="8.4" fill="#e2433a"/>
<rect x="830.1" y="396.3" width="3.2" height="8.4" fill="#c8d63a"/>
<rect x="884.9" y="396.3" width="3.2" height="8.4" fill="#e01e7c"/>
<path d="M1035.7 393.0h3.4l3.9 13h-11.2z" fill="#c3c795"/>
<rect x="1096.7" y="396.3" width="3.2" height="8.4" fill="#e2433a"/>
<rect x="1121.5" y="396.3" width="3.2" height="8.4" fill="#e2433a"/>
<path d="M1213.3 394.8h11.4l-4.4 12.9h-2.6z" fill="#926328"/>
<path d="M456.9 410.0h3.4l3.9 13h-11.2z" fill="#c3c795"/>
<path d="M506.1 410.0h3.4l3.9 13h-11.2z" fill="#c3c795"/>
<path d="M642.8 411.8h11.4l-4.4 12.9h-2.6z" fill="#c918bb"/>
<rect x="667.2" y="413.3" width="3.2" height="8.4" fill="#8d5c5c"/>
<path d="M733.2 410.0h3.4l3.9 13h-11.2z" fill="#30e6e6"/>
<path d="M770.3 410.0h3.4l3.9 13h-11.2z" fill="#30e6e6"/>
<path d="M768.8 411.8h11.4l-4.4 12.9h-2.6z" fill="#926328"/>
<path d="M794.4 410.0h3.4l3.9 13h-11.2z" fill="#c3c795"/>
<path d="M856.0 411.8h11.4l-4.4 12.9h-2.6z" fill="#8580d8"/>
<path d="M959.3 411.8h11.4l-4.4 12.9h-2.6z" fill="#8580d8"/>
<rect x="1017.3" y="413.3" width="3.2" height="8.4" fill="#c8d63a"/>
<path d="M1033.2 411.8h11.4l-4.4 12.9h-2.6z" fill="#f3401a"/>
<path d="M1046.8 410.0h3.4l3.9 13h-11.2z" fill="#8585f2"/>
<path d="M1084.1 411.8h11.4l-4.4 12.9h-2.6z" fill="#f3401a"/>
<path d="M1089.6 410.0h3.4l3.9 13h-11.2z" fill="#30e6e6"/>
<path d="M1092.6 411.8h11.4l-4.4 12.9h-2.6z" fill="#926328"/>
<rect x="652.0" y="430.2" width="3.2" height="8.4" fill="#5c7c1e"/>
<path d="M672.0 428.8h11.4l-4.4 12.9h-2.6z" fill="#bfb28c"/>
<path d="M710.9 426.9h3.4l3.9 13h-11.2z" fill="#c3c795"/>
<path d="M788.7 426.9h3.4l3.9 13h-11.2z" fill="#8585f2"/>
<path d="M845.3 426.9h3.4l3.9 13h-11.2z" fill="#c3c795"/>
<path d="M871.2 426.9h3.4l3.9 13h-11.2z" fill="#30e6e6"/>
<rect x="926.8" y="430.2" width="3.2" height="8.4" fill="#8d5c5c"/>
<rect x="1108.2" y="430.2" width="3.2" height="8.4" fill="#5c7c1e"/>
<path d="M1146.0 428.8h11.4l-4.4 12.9h-2.6z" fill="#f3401a"/>
<path d="M475.7 445.7h11.4l-4.4 12.9h-2.6z" fill="#926328"/>
<path d="M583.1 445.7h11.4l-4.4 12.9h-2.6z" fill="#8580d8"/>
<path d="M623.7 445.7h11.4l-4.4 12.9h-2.6z" fill="#c4b6ee"/>
<path d="M703.0 443.9h3.4l3.9 13h-11.2z" fill="#30e6e6"/>
<rect x="758.7" y="447.2" width="3.2" height="8.4" fill="#eaaaee"/>
<path d="M914.2 445.7h11.4l-4.4 12.9h-2.6z" fill="#ea6a4c"/>
<path d="M1080.9 445.7h11.4l-4.4 12.9h-2.6z" fill="#ea6a4c"/>
<path d="M1214.4 443.9h3.4l3.9 13h-11.2z" fill="#30e6e6"/>
<path d="M1242.1 443.9h3.4l3.9 13h-11.2z" fill="#30e6e6"/>
<path d="M1241.3 445.7h11.4l-4.4 12.9h-2.6z" fill="#f3401a"/>
<rect x="1245.4" y="447.2" width="3.2" height="8.4" fill="#5c7c1e"/>
<path d="M529.9 460.9h3.4l3.9 13h-11.2z" fill="#30e6e6"/>
<path d="M624.2 460.9h3.4l3.9 13h-11.2z" fill="#30e6e6"/>
<path d="M649.8 462.7h11.4l-4.4 12.9h-2.6z" fill="#f3401a"/>
<rect x="653.9" y="464.2" width="3.2" height="8.4" fill="#5c7c1e"/>
<path d="M692.6 462.7h11.4l-4.4 12.9h-2.6z" fill="#8580d8"/>
<path d="M788.5 462.7h11.4l-4.4 12.9h-2.6z" fill="#f3401a"/>
<path d="M883.0 462.7h11.4l-4.4 12.9h-2.6z" fill="#8d6fa4"/>
<path d="M894.3 460.9h3.4l3.9 13h-11.2z" fill="#30e6e6"/>
<path d="M973.5 462.7h11.4l-4.4 12.9h-2.6z" fill="#ea6a4c"/>
<path d="M1107.7 460.9h3.4l3.9 13h-11.2z" fill="#30e6e6"/>
<path d="M1122.8 462.7h11.4l-4.4 12.9h-2.6z" fill="#f3401a"/>
<rect x="1126.9" y="464.2" width="3.2" height="8.4" fill="#5c7c1e"/>
<rect x="1139.9" y="464.2" width="3.2" height="8.4" fill="#c8d63a"/>
<path d="M1242.7 460.9h3.4l3.9 13h-11.2z" fill="#30e6e6"/>
<path d="M508.3 477.9h3.4l3.9 13h-11.2z" fill="#30e6e6"/>
<rect x="564.9" y="481.2" width="3.2" height="8.4" fill="#1f8c2e"/>
<path d="M577.4 479.7h11.4l-4.4 12.9h-2.6z" fill="#f3401a"/>
<rect x="588.1" y="481.2" width="3.2" height="8.4" fill="#c8d63a"/>
<path d="M596.4 479.7h11.4l-4.4 12.9h-2.6z" fill="#f3401a"/>
<path d="M622.6 477.9h3.4l3.9 13h-11.2z" fill="#c3c795"/>
<rect x="962.7" y="481.2" width="3.2" height="8.4" fill="#c8d63a"/>
<path d="M965.3 479.7h11.4l-4.4 12.9h-2.6z" fill="#f3401a"/>
<path d="M968.8 479.7h11.4l-4.4 12.9h-2.6z" fill="#f3401a"/>
<path d="M1081.5 479.7h11.4l-4.4 12.9h-2.6z" fill="#ea6a4c"/>
<path d="M1102.3 477.9h3.4l3.9 13h-11.2z" fill="#8585f2"/>
<path d="M1214.4 477.9h3.4l3.9 13h-11.2z" fill="#30e6e6"/>
<path d="M1242.1 477.9h3.4l3.9 13h-11.2z" fill="#30e6e6"/>
<path d="M1241.3 479.7h11.4l-4.4 12.9h-2.6z" fill="#f3401a"/>
<rect x="1245.4" y="481.2" width="3.2" height="8.4" fill="#5c7c1e"/>
<path d="M489.4 496.6h11.4l-4.4 12.9h-2.6z" fill="#926328"/>
<rect x="561.8" y="498.1" width="3.2" height="8.4" fill="#eaaaee"/>
<path d="M645.6 496.6h11.4l-4.4 12.9h-2.6z" fill="#f3401a"/>
<path d="M666.6 496.6h11.4l-4.4 12.9h-2.6z" fill="#f3401a"/>
<rect x="752.9" y="498.1" width="3.2" height="8.4" fill="#5c7c1e"/>
<path d="M770.6 494.8h3.4l3.9 13h-11.2z" fill="#2f42e0"/>
<path d="M846.3 496.6h11.4l-4.4 12.9h-2.6z" fill="#bfb28c"/>
<path d="M883.9 494.8h3.4l3.9 13h-11.2z" fill="#c3c795"/>
<path d="M944.3 496.6h11.4l-4.4 12.9h-2.6z" fill="#8d6fa4"/>
<path d="M1039.5 494.8h3.4l3.9 13h-11.2z" fill="#e02ea6"/>
<path d="M1168.8 496.6h11.4l-4.4 12.9h-2.6z" fill="#f3401a"/>
<rect x="1172.9" y="498.1" width="3.2" height="8.4" fill="#5c7c1e"/>
<path d="M592.8 511.8h3.4l3.9 13h-11.2z" fill="#30e6e6"/>
<rect x="637.4" y="515.1" width="3.2" height="8.4" fill="#e2433a"/>
<rect x="704.7" y="515.1" width="3.2" height="8.4" fill="#e2433a"/>
<rect x="714.8" y="515.1" width="3.2" height="8.4" fill="#c8d63a"/>
<path d="M866.4 511.8h3.4l3.9 13h-11.2z" fill="#30e6e6"/>
<rect x="921.4" y="515.1" width="3.2" height="8.4" fill="#c8d63a"/>
<path d="M972.3 513.6h11.4l-4.4 12.9h-2.6z" fill="#ea6a4c"/>
<path d="M1085.8 511.8h3.4l3.9 13h-11.2z" fill="#30e6e6"/>
<path d="M1203.1 513.6h11.4l-4.4 12.9h-2.6z" fill="#f3401a"/>
<path d="M1238.9 511.8h3.4l3.9 13h-11.2z" fill="#30e6e6"/>
<rect x="465.9" y="532.1" width="3.2" height="8.4" fill="#e2433a"/>
<path d="M570.4 530.6h11.4l-4.4 12.9h-2.6z" fill="#926328"/>
<path d="M578.3 530.6h11.4l-4.4 12.9h-2.6z" fill="#bfb28c"/>
<path d="M647.2 530.6h11.4l-4.4 12.9h-2.6z" fill="#f3401a"/>
<rect x="651.3" y="532.1" width="3.2" height="8.4" fill="#5c7c1e"/>
<path d="M668.8 530.6h11.4l-4.4 12.9h-2.6z" fill="#f3401a"/>
<path d="M729.8 530.6h11.4l-4.4 12.9h-2.6z" fill="#8d6fa4"/>
<rect x="766.0" y="532.1" width="3.2" height="8.4" fill="#e2433a"/>
<rect x="785.7" y="532.1" width="3.2" height="8.4" fill="#c8d63a"/>
<path d="M862.4 530.6h11.4l-4.4 12.9h-2.6z" fill="#926328"/>
<path d="M981.0 528.8h3.4l3.9 13h-11.2z" fill="#e02ea6"/>
<path d="M1183.3 528.8h3.4l3.9 13h-11.2z" fill="#30e6e6"/>
<path d="M1184.1 530.6h11.4l-4.4 12.9h-2.6z" fill="#8d6fa4"/>
<path d="M1233.3 530.6h11.4l-4.4 12.9h-2.6z" fill="#f3401a"/>
<rect x="1237.4" y="532.1" width="3.2" height="8.4" fill="#5c7c1e"/>
<path d="M542.6 545.7h3.4l3.9 13h-11.2z" fill="#8585f2"/>
<rect x="558.0" y="549.0" width="3.2" height="8.4" fill="#eaaaee"/>
<path d="M621.1 545.7h3.4l3.9 13h-11.2z" fill="#30e6e6"/>
<path d="M722.0 545.7h3.4l3.9 13h-11.2z" fill="#30e6e6"/>
<path d="M840.3 547.5h11.4l-4.4 12.9h-2.6z" fill="#ea6a4c"/>
<path d="M1022.8 547.5h11.4l-4.4 12.9h-2.6z" fill="#f3401a"/>
<rect x="1026.9" y="549.0" width="3.2" height="8.4" fill="#5c7c1e"/>
<path d="M1200.9 547.5h11.4l-4.4 12.9h-2.6z" fill="#f3401a"/>
<rect x="485.6" y="566.0" width="3.2" height="8.4" fill="#c8d63a"/>
<path d="M546.4 562.7h3.4l3.9 13h-11.2z" fill="#3c2246"/>
<rect x="580.2" y="566.0" width="3.2" height="8.4" fill="#1f8c2e"/>
<rect x="633.2" y="566.0" width="3.2" height="8.4" fill="#eaaaee"/>
<path d="M647.4 562.7h3.4l3.9 13h-11.2z" fill="#8585f2"/>
<path d="M829.1 562.7h3.4l3.9 13h-11.2z" fill="#e02ea6"/>
<rect x="925.2" y="566.0" width="3.2" height="8.4" fill="#c8d63a"/>
<path d="M1019.0 564.5h11.4l-4.4 12.9h-2.6z" fill="#8d6fa4"/>
<path d="M1036.3 562.7h3.4l3.9 13h-11.2z" fill="#8585f2"/>
<path d="M1080.9 564.5h11.4l-4.4 12.9h-2.6z" fill="#8580d8"/>
<path d="M1146.2 562.7h3.4l3.9 13h-11.2z" fill="#30e6e6"/>
<path d="M1148.2 564.5h11.4l-4.4 12.9h-2.6z" fill="#ea6a4c"/>
<path d="M470.5 579.7h3.4l3.9 13h-11.2z" fill="#e02ea6"/>
<path d="M495.6 579.7h3.4l3.9 13h-11.2z" fill="#e02ea6"/>
<path d="M526.7 579.7h3.4l3.9 13h-11.2z" fill="#30e6e6"/>
<path d="M559.1 579.7h3.4l3.9 13h-11.2z" fill="#c3c795"/>
<rect x="591.9" y="583.0" width="3.2" height="8.4" fill="#e2433a"/>
<path d="M627.7 579.7h3.4l3.9 13h-11.2z" fill="#c3c795"/>
<path d="M675.4 579.7h3.4l3.9 13h-11.2z" fill="#8585f2"/>
<path d="M712.5 579.7h3.4l3.9 13h-11.2z" fill="#30e6e6"/>
<path d="M726.2 579.7h3.4l3.9 13h-11.2z" fill="#30e6e6"/>
<path d="M729.3 579.7h3.4l3.9 13h-11.2z" fill="#c3c795"/>
<path d="M807.8 579.7h3.4l3.9 13h-11.2z" fill="#30e6e6"/>
<rect x="1098.3" y="583.0" width="3.2" height="8.4" fill="#5c7c1e"/>
<path d="M1109.6 579.7h3.4l3.9 13h-11.2z" fill="#30e6e6"/>
<path d="M1125.3 581.5h11.4l-4.4 12.9h-2.6z" fill="#f3401a"/>
<path d="M1138.0 581.5h11.4l-4.4 12.9h-2.6z" fill="#926328"/>
<rect x="1210.4" y="583.0" width="3.2" height="8.4" fill="#e2433a"/>
<rect x="911.3" y="599.9" width="3.2" height="8.4" fill="#c8d63a"/>
<path d="M944.2 596.6h3.4l3.9 13h-11.2z" fill="#8585f2"/>
<rect x="985.9" y="599.9" width="3.2" height="8.4" fill="#c8d63a"/>
<path d="M1110.3 596.6h3.4l3.9 13h-11.2z" fill="#e02ea6"/>
<path d="M1213.5 596.6h3.4l3.9 13h-11.2z" fill="#70a290"/>
<path d="M1222.4 596.6h3.4l3.9 13h-11.2z" fill="#30e6e6"/>
<path d="M698.2 613.6h3.4l3.9 13h-11.2z" fill="#e02ea6"/>
<path d="M730.6 613.6h3.4l3.9 13h-11.2z" fill="#e02ea6"/>
<path d="M796.5 615.4h11.4l-4.4 12.9h-2.6z" fill="#c4b6ee"/>
<path d="M813.3 615.4h11.4l-4.4 12.9h-2.6z" fill="#c4b6ee"/>
<path d="M1107.7 613.6h3.4l3.9 13h-11.2z" fill="#30e6e6"/>
<path d="M1113.5 613.6h3.4l3.9 13h-11.2z" fill="#30e6e6"/>
<path d="M1131.9 613.6h3.4l3.9 13h-11.2z" fill="#8585f2"/>
<path d="M999.0 632.4h11.4l-4.4 12.9h-2.6z" fill="#8d6fa4"/>
<path d="M1023.0 630.6h3.4l3.9 13h-11.2z" fill="#3c2246"/>
<path d="M1055.3 630.6h3.4l3.9 13h-11.2z" fill="#30e6e6"/>
<rect x="1058.6" y="633.9" width="3.2" height="8.4" fill="#eaaaee"/>
<rect x="1086.6" y="633.9" width="3.2" height="8.4" fill="#5c7c1e"/>
<path d="M1097.9 630.6h3.4l3.9 13h-11.2z" fill="#30e6e6"/>
<path d="M1111.1 632.4h11.4l-4.4 12.9h-2.6z" fill="#926328"/>
<path d="M1206.2 630.6h3.4l3.9 13h-11.2z" fill="#a3e6a3"/>
<path d="M1243.7 630.6h3.4l3.9 13h-11.2z" fill="#30e6e6"/>
<path d="M464.0 649.4h11.4l-4.4 12.9h-2.6z" fill="#c4b6ee"/>
<path d="M506.9 649.4h11.4l-4.4 12.9h-2.6z" fill="#f3401a"/>
<rect x="594.5" y="650.9" width="3.2" height="8.4" fill="#eaaaee"/>
<path d="M609.9 647.6h3.4l3.9 13h-11.2z" fill="#30e6e6"/>
<path d="M726.6 649.4h11.4l-4.4 12.9h-2.6z" fill="#f3401a"/>
<rect x="730.7" y="650.9" width="3.2" height="8.4" fill="#5c7c1e"/>
<path d="M791.1 649.4h11.4l-4.4 12.9h-2.6z" fill="#f3401a"/>
<rect x="795.2" y="650.9" width="3.2" height="8.4" fill="#5c7c1e"/>
<path d="M907.8 649.4h11.4l-4.4 12.9h-2.6z" fill="#926328"/>
<path d="M917.3 649.4h11.4l-4.4 12.9h-2.6z" fill="#8580d8"/>
<path d="M929.3 647.6h3.4l3.9 13h-11.2z" fill="#c3c795"/>
<path d="M934.8 649.4h11.4l-4.4 12.9h-2.6z" fill="#926328"/>
<path d="M946.6 649.4h11.4l-4.4 12.9h-2.6z" fill="#c918bb"/>
<path d="M955.6 647.6h3.4l3.9 13h-11.2z" fill="#c3c795"/>
<path d="M449.7 666.3h11.4l-4.4 12.9h-2.6z" fill="#c918bb"/>
<path d="M518.6 666.3h11.4l-4.4 12.9h-2.6z" fill="#926328"/>
<path d="M734.9 666.3h11.4l-4.4 12.9h-2.6z" fill="#8d6fa4"/>
<path d="M920.5 666.3h11.4l-4.4 12.9h-2.6z" fill="#926328"/>
<path d="M946.6 666.3h11.4l-4.4 12.9h-2.6z" fill="#926328"/>
<path d="M956.1 666.3h11.4l-4.4 12.9h-2.6z" fill="#c918bb"/>
<path d="M965.2 664.5h3.4l3.9 13h-11.2z" fill="#c3c795"/>
<rect x="469.7" y="684.8" width="3.2" height="8.4" fill="#5c7c1e"/>
<path d="M503.1 683.3h11.4l-4.4 12.9h-2.6z" fill="#926328"/>
<path d="M639.3 683.3h11.4l-4.4 12.9h-2.6z" fill="#f3401a"/>
<rect x="673.6" y="684.8" width="3.2" height="8.4" fill="#c8d63a"/>
<path d="M751.4 683.3h11.4l-4.4 12.9h-2.6z" fill="#926328"/>
<path d="M996.6 681.5h3.4l3.9 13h-11.2z" fill="#3c2246"/>
<path d="M1087.2 683.3h11.4l-4.4 12.9h-2.6z" fill="#926328"/>
<path d="M1099.9 683.3h11.4l-4.4 12.9h-2.6z" fill="#f3401a"/>
<rect x="1125.3" y="684.8" width="3.2" height="8.4" fill="#c8d63a"/>
<rect x="1128.5" y="684.8" width="3.2" height="8.4" fill="#c8d63a"/>
<rect x="1151.7" y="684.8" width="3.2" height="8.4" fill="#c8d63a"/>
<rect x="453.2" y="701.8" width="3.2" height="8.4" fill="#e2433a"/>
<rect x="532.6" y="701.8" width="3.2" height="8.4" fill="#eaaaee"/>
<rect x="544.9" y="701.8" width="3.2" height="8.4" fill="#eaaaee"/>
<rect x="646.2" y="701.8" width="3.2" height="8.4" fill="#8d5c5c"/>
<path d="M716.5 700.3h11.4l-4.4 12.9h-2.6z" fill="#f3401a"/>
<rect x="779.3" y="701.8" width="3.2" height="8.4" fill="#c8d63a"/>
<path d="M844.1 700.3h11.4l-4.4 12.9h-2.6z" fill="#926328"/>
<path d="M853.2 698.5h3.4l3.9 13h-11.2z" fill="#30e6e6"/>
<path d="M959.6 700.3h11.4l-4.4 12.9h-2.6z" fill="#8580d8"/>
<path d="M1041.2 700.3h11.4l-4.4 12.9h-2.6z" fill="#8d6fa4"/>
<path d="M1054.7 698.5h3.4l3.9 13h-11.2z" fill="#c3c795"/>
<path d="M1109.5 700.3h11.4l-4.4 12.9h-2.6z" fill="#f3401a"/>
<rect x="1134.8" y="701.8" width="3.2" height="8.4" fill="#c8d63a"/>
<rect x="1160.2" y="701.8" width="3.2" height="8.4" fill="#c8d63a"/>
<rect x="1227.9" y="701.8" width="3.2" height="8.4" fill="#c8d63a"/>
<path d="M1261.1 698.5h3.4l3.9 13h-11.2z" fill="#30e6e6"/>
<path d="M488.4 717.2h11.4l-4.4 12.9h-2.6z" fill="#f3401a"/>
<rect x="492.5" y="718.7" width="3.2" height="8.4" fill="#5c7c1e"/>
<path d="M510.0 717.2h11.4l-4.4 12.9h-2.6z" fill="#926328"/>
<rect x="651.6" y="718.7" width="3.2" height="8.4" fill="#1f8c2e"/>
<path d="M713.2 715.4h3.4l3.9 13h-11.2z" fill="#c3c795"/>
<path d="M799.0 717.2h11.4l-4.4 12.9h-2.6z" fill="#926328"/>
<rect x="977.0" y="718.7" width="3.2" height="8.4" fill="#e2433a"/>
<path d="M1036.4 717.2h11.4l-4.4 12.9h-2.6z" fill="#8580d8"/>
<path d="M1066.6 717.2h11.4l-4.4 12.9h-2.6z" fill="#8d6fa4"/>
<path d="M1112.8 715.4h3.4l3.9 13h-11.2z" fill="#30e6e6"/>
<rect x="1172.9" y="718.7" width="3.2" height="8.4" fill="#e2433a"/>
<rect x="1178.7" y="718.7" width="3.2" height="8.4" fill="#e2433a"/>
<path d="M1184.0 715.4h3.4l3.9 13h-11.2z" fill="#30e6e6"/>
<path d="M1212.9 715.4h3.4l3.9 13h-11.2z" fill="#30e6e6"/>
<path d="M439.2 734.2h11.4l-4.4 12.9h-2.6z" fill="#f3401a"/>
<rect x="443.3" y="735.7" width="3.2" height="8.4" fill="#5c7c1e"/>
<path d="M454.5 734.2h11.4l-4.4 12.9h-2.6z" fill="#8580d8"/>
<path d="M512.3 734.2h11.4l-4.4 12.9h-2.6z" fill="#f3401a"/>
<rect x="516.4" y="735.7" width="3.2" height="8.4" fill="#5c7c1e"/>
<path d="M736.3 732.4h3.4l3.9 13h-11.2z" fill="#c3c795"/>
<path d="M851.3 732.4h3.4l3.9 13h-11.2z" fill="#8585f2"/>
<rect x="1011.3" y="735.7" width="3.2" height="8.4" fill="#c8d63a"/>
<path d="M1130.0 732.4h3.4l3.9 13h-11.2z" fill="#30e6e6"/>
<rect x="1192.9" y="735.7" width="3.2" height="8.4" fill="#e2433a"/>
<rect x="1197.7" y="735.7" width="3.2" height="8.4" fill="#e2433a"/>
<path d="M1203.3 732.4h3.4l3.9 13h-11.2z" fill="#30e6e6"/>
<path d="M1232.5 732.4h3.4l3.9 13h-11.2z" fill="#30e6e6"/>
<path d="M503.1 751.2h11.4l-4.4 12.9h-2.6z" fill="#f3401a"/>
<path d="M645.0 751.2h11.4l-4.4 12.9h-2.6z" fill="#c4b6ee"/>
<path d="M791.3 749.4h3.4l3.9 13h-11.2z" fill="#30e6e6"/>
<rect x="796.1" y="752.7" width="3.2" height="8.4" fill="#c8d63a"/>
<path d="M953.9 751.2h11.4l-4.4 12.9h-2.6z" fill="#bfb28c"/>
<path d="M1076.8 751.2h11.4l-4.4 12.9h-2.6z" fill="#926328"/>
<rect x="1085.0" y="752.7" width="3.2" height="8.4" fill="#c8d63a"/>
<rect x="1097.1" y="752.7" width="3.2" height="8.4" fill="#c8d63a"/>
<rect x="1146.9" y="752.7" width="3.2" height="8.4" fill="#c8d63a"/>
<path d="M1153.2 749.4h3.4l3.9 13h-11.2z" fill="#8585f2"/>
<path d="M1179.5 749.4h3.4l3.9 13h-11.2z" fill="#30e6e6"/>
<path d="M571.2 766.4h3.4l3.9 13h-11.2z" fill="#c3c795"/>
<path d="M799.8 766.4h3.4l3.9 13h-11.2z" fill="#30e6e6"/>
<rect x="804.1" y="769.6" width="3.2" height="8.4" fill="#c8d63a"/>
<path d="M961.2 768.1h11.4l-4.4 12.9h-2.6z" fill="#bfb28c"/>
<path d="M1066.8 766.4h3.4l3.9 13h-11.2z" fill="#e02ea6"/>
<path d="M1083.1 768.1h11.4l-4.4 12.9h-2.6z" fill="#926328"/>
<rect x="1091.3" y="769.6" width="3.2" height="8.4" fill="#c8d63a"/>
<rect x="1145.3" y="769.6" width="3.2" height="8.4" fill="#c8d63a"/>
<path d="M1151.6 766.4h3.4l3.9 13h-11.2z" fill="#8585f2"/>
<path d="M1178.6 766.4h3.4l3.9 13h-11.2z" fill="#30e6e6"/>
<path d="M478.3 785.1h11.4l-4.4 12.9h-2.6z" fill="#ea6a4c"/>
<path d="M499.6 785.1h11.4l-4.4 12.9h-2.6z" fill="#c918bb"/>
<path d="M625.2 783.3h3.4l3.9 13h-11.2z" fill="#30e6e6"/>
<rect x="629.1" y="786.6" width="3.2" height="8.4" fill="#c8d63a"/>
<path d="M741.1 783.3h3.4l3.9 13h-11.2z" fill="#e02ea6"/>
<path d="M754.4 783.3h3.4l3.9 13h-11.2z" fill="#8585f2"/>
<path d="M764.9 783.3h3.4l3.9 13h-11.2z" fill="#e02ea6"/>
<path d="M794.9 785.1h11.4l-4.4 12.9h-2.6z" fill="#bfb28c"/>
<path d="M903.0 785.1h11.4l-4.4 12.9h-2.6z" fill="#926328"/>
<rect x="1042.7" y="786.6" width="3.2" height="8.4" fill="#e2433a"/>
<path d="M1140.5 783.3h3.4l3.9 13h-11.2z" fill="#8585f2"/>
<rect x="1180.2" y="786.6" width="3.2" height="8.4" fill="#c8d63a"/>
<path d="M1222.8 785.1h11.4l-4.4 12.9h-2.6z" fill="#f3401a"/>
<path d="M491.6 802.1h11.4l-4.4 12.9h-2.6z" fill="#ea6a4c"/>
<path d="M637.9 800.3h3.4l3.9 13h-11.2z" fill="#30e6e6"/>
<rect x="642.1" y="803.6" width="3.2" height="8.4" fill="#c8d63a"/>
<path d="M762.4 800.3h3.4l3.9 13h-11.2z" fill="#e02ea6"/>
<path d="M781.4 800.3h3.4l3.9 13h-11.2z" fill="#8585f2"/>
<path d="M791.3 800.3h3.4l3.9 13h-11.2z" fill="#e02ea6"/>
<path d="M821.9 802.1h11.4l-4.4 12.9h-2.6z" fill="#bfb28c"/>
<path d="M931.0 802.1h11.4l-4.4 12.9h-2.6z" fill="#926328"/>
<path d="M1037.2 800.3h3.4l3.9 13h-11.2z" fill="#8585f2"/>
<rect x="1077.0" y="803.6" width="3.2" height="8.4" fill="#c8d63a"/>
<rect x="1124.0" y="803.6" width="3.2" height="8.4" fill="#c8d63a"/>
<rect x="1203.4" y="803.6" width="3.2" height="8.4" fill="#c8d63a"/>
<path d="M472.8 817.3h3.4l3.9 13h-11.2z" fill="#30e6e6"/>
<path d="M542.8 819.1h11.4l-4.4 12.9h-2.6z" fill="#f3401a"/>
<path d="M561.5 819.1h11.4l-4.4 12.9h-2.6z" fill="#f3401a"/>
<path d="M583.1 819.1h11.4l-4.4 12.9h-2.6z" fill="#bfb28c"/>
<rect x="639.6" y="820.6" width="3.2" height="8.4" fill="#c8d63a"/>
<rect x="757.7" y="820.6" width="3.2" height="8.4" fill="#c8d63a"/>
<rect x="860.5" y="820.6" width="3.2" height="8.4" fill="#c8d63a"/>
<rect x="865.9" y="820.6" width="3.2" height="8.4" fill="#5c7c1e"/>
<rect x="922.4" y="820.6" width="3.2" height="8.4" fill="#eaaaee"/>
<path d="M981.7 817.3h3.4l3.9 13h-11.2z" fill="#30e6e6"/>
<path d="M1055.5 819.1h11.4l-4.4 12.9h-2.6z" fill="#926328"/>
<path d="M1150.0 817.3h3.4l3.9 13h-11.2z" fill="#c3c795"/>
<path d="M1260.2 817.3h3.4l3.9 13h-11.2z" fill="#30e6e6"/>
<path d="M451.2 834.2h3.4l3.9 13h-11.2z" fill="#e02ea6"/>
<path d="M451.3 836.0h11.4l-4.4 12.9h-2.6z" fill="#926328"/>
<rect x="457.4" y="837.5" width="3.2" height="8.4" fill="#c8d63a"/>
<path d="M544.3 836.0h11.4l-4.4 12.9h-2.6z" fill="#926328"/>
<rect x="602.4" y="837.5" width="3.2" height="8.4" fill="#8d5c5c"/>
<path d="M678.3 836.0h11.4l-4.4 12.9h-2.6z" fill="#926328"/>
<path d="M681.5 836.0h11.4l-4.4 12.9h-2.6z" fill="#926328"/>
<path d="M706.2 834.2h3.4l3.9 13h-11.2z" fill="#30e6e6"/>
<rect x="719.3" y="837.5" width="3.2" height="8.4" fill="#8d5c5c"/>
<path d="M800.5 834.2h3.4l3.9 13h-11.2z" fill="#30e6e6"/>
<path d="M864.0 836.0h11.4l-4.4 12.9h-2.6z" fill="#926328"/>
<path d="M896.6 834.2h3.4l3.9 13h-11.2z" fill="#e02ea6"/>
<rect x="923.7" y="837.5" width="3.2" height="8.4" fill="#eaaaee"/>
<path d="M982.6 834.2h3.4l3.9 13h-11.2z" fill="#30e6e6"/>
<path d="M1055.5 836.0h11.4l-4.4 12.9h-2.6z" fill="#926328"/>
<path d="M1150.0 834.2h3.4l3.9 13h-11.2z" fill="#c3c795"/>
<rect x="1229.4" y="837.5" width="3.2" height="8.4" fill="#c8d63a"/>
<path d="M1260.2 834.2h3.4l3.9 13h-11.2z" fill="#30e6e6"/>
<path d="M490.9 851.2h3.4l3.9 13h-11.2z" fill="#30e6e6"/>
<path d="M664.3 851.2h3.4l3.9 13h-11.2z" fill="#8585f2"/>
<path d="M687.1 851.2h3.4l3.9 13h-11.2z" fill="#30e6e6"/>
<path d="M725.2 851.2h3.4l3.9 13h-11.2z" fill="#e02ea6"/>
<path d="M762.4 851.2h3.4l3.9 13h-11.2z" fill="#30e6e6"/>
<rect x="980.8" y="854.5" width="3.2" height="8.4" fill="#eaaaee"/>
<path d="M999.8 851.2h3.4l3.9 13h-11.2z" fill="#e02ea6"/>
<path d="M1007.8 853.0h11.4l-4.4 12.9h-2.6z" fill="#c4b6ee"/>
<path d="M1036.6 851.2h3.4l3.9 13h-11.2z" fill="#30e6e6"/>
<path d="M1060.3 853.0h11.4l-4.4 12.9h-2.6z" fill="#926328"/>
<path d="M1087.4 851.2h3.4l3.9 13h-11.2z" fill="#8585f2"/>
<path d="M1110.4 853.0h11.4l-4.4 12.9h-2.6z" fill="#f3401a"/>
<rect x="1114.5" y="854.5" width="3.2" height="8.4" fill="#5c7c1e"/>
<path d="M1195.2 853.0h11.4l-4.4 12.9h-2.6z" fill="#bfb28c"/>
<path d="M1257.0 851.2h3.4l3.9 13h-11.2z" fill="#30e6e6"/>
<path d="M471.2 868.2h3.4l3.9 13h-11.2z" fill="#8585f2"/>
<path d="M493.4 868.2h3.4l3.9 13h-11.2z" fill="#30e6e6"/>
<path d="M527.4 868.2h3.4l3.9 13h-11.2z" fill="#e02ea6"/>
<path d="M564.2 868.2h3.4l3.9 13h-11.2z" fill="#30e6e6"/>
<path d="M833.3 870.0h11.4l-4.4 12.9h-2.6z" fill="#f3401a"/>
<rect x="984.9" y="871.5" width="3.2" height="8.4" fill="#e2433a"/>
<path d="M1000.9 870.0h11.4l-4.4 12.9h-2.6z" fill="#c4b6ee"/>
<path d="M1029.3 868.2h3.4l3.9 13h-11.2z" fill="#30e6e6"/>
<path d="M1052.9 870.0h11.4l-4.4 12.9h-2.6z" fill="#926328"/>
<rect x="1060.2" y="871.5" width="3.2" height="8.4" fill="#c8d63a"/>
<path d="M1103.1 870.0h11.4l-4.4 12.9h-2.6z" fill="#f3401a"/>
<rect x="1107.2" y="871.5" width="3.2" height="8.4" fill="#5c7c1e"/>
<rect x="1197.7" y="871.5" width="3.2" height="8.4" fill="#c8d63a"/>
<rect x="1243.8" y="871.5" width="3.2" height="8.4" fill="#e01e7c"/>
<path d="M1256.4 868.2h3.4l3.9 13h-11.2z" fill="#30e6e6"/>
<rect x="582.4" y="888.4" width="3.2" height="8.4" fill="#c8d63a"/>
<rect x="707.9" y="888.4" width="3.2" height="8.4" fill="#c8d63a"/>
<path d="M744.3 885.1h3.4l3.9 13h-11.2z" fill="#c3c795"/>
<rect x="775.5" y="888.4" width="3.2" height="8.4" fill="#c8d63a"/>
<rect x="879.2" y="888.4" width="3.2" height="8.4" fill="#c8d63a"/>
<path d="M929.4 886.9h11.4l-4.4 12.9h-2.6z" fill="#8d6fa4"/>
<path d="M937.2 885.1h3.4l3.9 13h-11.2z" fill="#30e6e6"/>
<path d="M939.6 886.9h11.4l-4.4 12.9h-2.6z" fill="#bfb28c"/>
<path d="M466.4 902.1h3.4l3.9 13h-11.2z" fill="#70a290"/>
<path d="M494.8 903.9h11.4l-4.4 12.9h-2.6z" fill="#926328"/>
<path d="M510.9 902.1h3.4l3.9 13h-11.2z" fill="#30e6e6"/>
<rect x="528.4" y="905.4" width="3.2" height="8.4" fill="#5c7c1e"/>
<path d="M558.6 903.9h11.4l-4.4 12.9h-2.6z" fill="#926328"/>
<path d="M586.9 903.9h11.4l-4.4 12.9h-2.6z" fill="#f3401a"/>
<rect x="707.9" y="905.4" width="3.2" height="8.4" fill="#c8d63a"/>
<path d="M744.3 902.1h3.4l3.9 13h-11.2z" fill="#c3c795"/>
<rect x="775.5" y="905.4" width="3.2" height="8.4" fill="#c8d63a"/>
<rect x="879.2" y="905.4" width="3.2" height="8.4" fill="#c8d63a"/>
<path d="M929.4 903.9h11.4l-4.4 12.9h-2.6z" fill="#8d6fa4"/>
<path d="M937.2 902.1h3.4l3.9 13h-11.2z" fill="#30e6e6"/>
<path d="M939.6 903.9h11.4l-4.4 12.9h-2.6z" fill="#bfb28c"/>
<rect x="467.5" y="922.4" width="3.2" height="8.4" fill="#7b9c8c"/>
<path d="M528.5 920.9h11.4l-4.4 12.9h-2.6z" fill="#bfb28c"/>
<path d="M552.1 919.1h3.4l3.9 13h-11.2z" fill="#30e6e6"/>
<path d="M586.4 919.1h3.4l3.9 13h-11.2z" fill="#30e6e6"/>
<path d="M607.7 919.1h3.4l3.9 13h-11.2z" fill="#30e6e6"/>
<path d="M644.2 919.1h3.4l3.9 13h-11.2z" fill="#30e6e6"/>
<path d="M681.4 919.1h3.4l3.9 13h-11.2z" fill="#8585f2"/>
<path d="M713.2 919.1h3.4l3.9 13h-11.2z" fill="#8585f2"/>
<path d="M716.6 919.1h3.4l3.9 13h-11.2z" fill="#30e6e6"/>
<path d="M756.0 919.1h3.4l3.9 13h-11.2z" fill="#30e6e6"/>
<path d="M792.9 919.1h3.4l3.9 13h-11.2z" fill="#8585f2"/>
<path d="M989.0 919.1h3.4l3.9 13h-11.2z" fill="#30e6e6"/>
<rect x="1104.0" y="922.4" width="3.2" height="8.4" fill="#c8d63a"/>
<path d="M1173.6 920.9h11.4l-4.4 12.9h-2.6z" fill="#f3401a"/>
<path d="M1178.4 920.9h11.4l-4.4 12.9h-2.6z" fill="#f3401a"/>
<rect x="1233.6" y="922.4" width="3.2" height="8.4" fill="#c8d63a"/>
<path d="M460.1 936.0h3.4l3.9 13h-11.2z" fill="#30e6e6"/>
<path d="M532.5 936.0h3.4l3.9 13h-11.2z" fill="#2f42e0"/>
<path d="M676.0 936.0h3.4l3.9 13h-11.2z" fill="#e02ea6"/>
<path d="M1012.0 937.8h11.4l-4.4 12.9h-2.6z" fill="#c4b6ee"/>
<path d="M1182.3 937.8h11.4l-4.4 12.9h-2.6z" fill="#f3401a"/>
<path d="M1186.3 937.8h11.4l-4.4 12.9h-2.6z" fill="#f3401a"/>
<rect x="1224.1" y="939.3" width="3.2" height="8.4" fill="#c8d63a"/>
<path d="M444.2 953.0h3.4l3.9 13h-11.2z" fill="#e02ea6"/>
<rect x="591.9" y="956.3" width="3.2" height="8.4" fill="#c8d63a"/>
<path d="M791.7 954.8h11.4l-4.4 12.9h-2.6z" fill="#f3401a"/>
<path d="M824.6 953.0h3.4l3.9 13h-11.2z" fill="#e02ea6"/>
<path d="M995.8 954.8h11.4l-4.4 12.9h-2.6z" fill="#c4b6ee"/>
<path d="M1048.3 953.0h3.4l3.9 13h-11.2z" fill="#2f42e0"/>
<rect x="1124.0" y="956.3" width="3.2" height="8.4" fill="#e2433a"/>
<path d="M1184.3 954.8h11.4l-4.4 12.9h-2.6z" fill="#f3401a"/>
<path d="M1188.3 954.8h11.4l-4.4 12.9h-2.6z" fill="#f3401a"/>
<path d="M1220.0 954.8h11.4l-4.4 12.9h-2.6z" fill="#f3401a"/>
<rect x="1224.1" y="956.3" width="3.2" height="8.4" fill="#c8d63a"/>
<rect x="458.6" y="973.3" width="3.2" height="8.4" fill="#c8d63a"/>
<path d="M546.6 971.8h11.4l-4.4 12.9h-2.6z" fill="#c4b6ee"/>
<path d="M719.5 970.0h3.4l3.9 13h-11.2z" fill="#30e6e6"/>
<path d="M875.4 971.8h11.4l-4.4 12.9h-2.6z" fill="#8d6fa4"/>
<rect x="929.4" y="973.3" width="3.2" height="8.4" fill="#c8d63a"/>
<rect x="944.3" y="973.3" width="3.2" height="8.4" fill="#eaaaee"/>
<rect x="995.1" y="973.3" width="3.2" height="8.4" fill="#97e22e"/>
<path d="M1089.6 970.0h3.4l3.9 13h-11.2z" fill="#3c2246"/>
<path d="M1188.8 971.8h11.4l-4.4 12.9h-2.6z" fill="#f3401a"/>
<path d="M1220.6 971.8h11.4l-4.4 12.9h-2.6z" fill="#f3401a"/>
<rect x="1224.7" y="973.3" width="3.2" height="8.4" fill="#5c7c1e"/>
<path d="M439.5 988.8h11.4l-4.4 12.9h-2.6z" fill="#c4b6ee"/>
<path d="M605.2 987.0h3.4l3.9 13h-11.2z" fill="#c3c795"/>
<path d="M701.4 987.0h3.4l3.9 13h-11.2z" fill="#c3c795"/>
<path d="M706.2 987.0h3.4l3.9 13h-11.2z" fill="#c3c795"/>
<path d="M746.6 988.8h11.4l-4.4 12.9h-2.6z" fill="#f3401a"/>
<path d="M755.4 987.0h3.4l3.9 13h-11.2z" fill="#30e6e6"/>
<path d="M833.2 987.0h3.4l3.9 13h-11.2z" fill="#e02ea6"/>
<path d="M837.3 987.0h3.4l3.9 13h-11.2z" fill="#30e6e6"/>
<path d="M853.3 988.8h11.4l-4.4 12.9h-2.6z" fill="#926328"/>
<rect x="892.2" y="990.3" width="3.2" height="8.4" fill="#c8d63a"/>
<rect x="979.6" y="990.3" width="3.2" height="8.4" fill="#c8d63a"/>
<path d="M1034.1 987.0h3.4l3.9 13h-11.2z" fill="#c3c795"/>
<path d="M1051.3 988.8h11.4l-4.4 12.9h-2.6z" fill="#8d6fa4"/>
<path d="M1140.5 987.0h3.4l3.9 13h-11.2z" fill="#8585f2"/>
<path d="M1180.3 988.8h11.4l-4.4 12.9h-2.6z" fill="#f3401a"/>
<path d="M1218.4 988.8h11.4l-4.4 12.9h-2.6z" fill="#f3401a"/>
<rect x="1222.5" y="990.3" width="3.2" height="8.4" fill="#5c7c1e"/>
<path d="M477.3 1005.7h11.4l-4.4 12.9h-2.6z" fill="#f3401a"/>
<path d="M619.8 1003.9h3.4l3.9 13h-11.2z" fill="#e02ea6"/>
<rect x="682.4" y="1007.2" width="3.2" height="8.4" fill="#5c7c1e"/>
<rect x="814.2" y="1007.2" width="3.2" height="8.4" fill="#7b9c8c"/>
<path d="M915.1 1005.7h11.4l-4.4 12.9h-2.6z" fill="#8d6fa4"/>
<rect x="1009.7" y="1007.2" width="3.2" height="8.4" fill="#eaaaee"/>
<path d="M1140.5 1003.9h3.4l3.9 13h-11.2z" fill="#8585f2"/>
<path d="M1181.6 1005.7h11.4l-4.4 12.9h-2.6z" fill="#f3401a"/>
<rect x="1207.2" y="1007.2" width="3.2" height="8.4" fill="#eaaaee"/>
<path d="M1218.4 1005.7h11.4l-4.4 12.9h-2.6z" fill="#f3401a"/>
<rect x="1222.5" y="1007.2" width="3.2" height="8.4" fill="#5c7c1e"/>
<rect x="1239.6" y="1007.2" width="3.2" height="8.4" fill="#c8d63a"/>
<path d="M461.8 1022.7h11.4l-4.4 12.9h-2.6z" fill="#f3401a"/>
<rect x="465.9" y="1024.2" width="3.2" height="8.4" fill="#5c7c1e"/>
<rect x="514.1" y="1024.2" width="3.2" height="8.4" fill="#c8d63a"/>
<path d="M539.4 1020.9h3.4l3.9 13h-11.2z" fill="#e02ea6"/>
<path d="M561.5 1022.7h11.4l-4.4 12.9h-2.6z" fill="#8580d8"/>
<path d="M570.4 1022.7h11.4l-4.4 12.9h-2.6z" fill="#f3401a"/>
<path d="M653.6 1022.7h11.4l-4.4 12.9h-2.6z" fill="#8d6fa4"/>
<path d="M668.7 1020.9h3.4l3.9 13h-11.2z" fill="#8585f2"/>
<path d="M690.1 1022.7h11.4l-4.4 12.9h-2.6z" fill="#ea6a4c"/>
<path d="M821.1 1020.9h3.4l3.9 13h-11.2z" fill="#30e6e6"/>
<path d="M871.2 1020.9h3.4l3.9 13h-11.2z" fill="#30e6e6"/>
<path d="M957.0 1022.7h11.4l-4.4 12.9h-2.6z" fill="#ea6a4c"/>
<path d="M971.3 1022.7h11.4l-4.4 12.9h-2.6z" fill="#f3401a"/>
<rect x="975.4" y="1024.2" width="3.2" height="8.4" fill="#5c7c1e"/>
<path d="M1034.1 1020.9h3.4l3.9 13h-11.2z" fill="#c3c795"/>
<path d="M1051.3 1022.7h11.4l-4.4 12.9h-2.6z" fill="#8d6fa4"/>
<path d="M1140.5 1020.9h3.4l3.9 13h-11.2z" fill="#8585f2"/>
<path d="M1178.3 1022.7h11.4l-4.4 12.9h-2.6z" fill="#f3401a"/>
<path d="M1183.3 1022.7h11.4l-4.4 12.9h-2.6z" fill="#f3401a"/>
<path d="M1219.0 1022.7h11.4l-4.4 12.9h-2.6z" fill="#f3401a"/>
<rect x="1223.1" y="1024.2" width="3.2" height="8.4" fill="#5c7c1e"/>
<path d="M471.3 1039.7h11.4l-4.4 12.9h-2.6z" fill="#8d6fa4"/>
<rect x="568.1" y="1041.2" width="3.2" height="8.4" fill="#eaaaee"/>
<path d="M592.0 1039.7h11.4l-4.4 12.9h-2.6z" fill="#f3401a"/>
<rect x="596.1" y="1041.2" width="3.2" height="8.4" fill="#5c7c1e"/>
<path d="M957.0 1039.7h11.4l-4.4 12.9h-2.6z" fill="#ea6a4c"/>
<path d="M971.3 1039.7h11.4l-4.4 12.9h-2.6z" fill="#f3401a"/>
<rect x="975.4" y="1041.2" width="3.2" height="8.4" fill="#5c7c1e"/>
<path d="M1034.7 1037.9h3.4l3.9 13h-11.2z" fill="#c3c795"/>
<path d="M1051.7 1039.7h11.4l-4.4 12.9h-2.6z" fill="#8d6fa4"/>
<path d="M1141.1 1037.9h3.4l3.9 13h-11.2z" fill="#8585f2"/>
<path d="M1178.3 1039.7h11.4l-4.4 12.9h-2.6z" fill="#f3401a"/>
<path d="M1183.3 1039.7h11.4l-4.4 12.9h-2.6z" fill="#f3401a"/>
<path d="M1219.0 1039.7h11.4l-4.4 12.9h-2.6z" fill="#f3401a"/>
<rect x="1223.1" y="1041.2" width="3.2" height="8.4" fill="#5c7c1e"/>
<path d="M617.3 1054.8h3.4l3.9 13h-11.2z" fill="#30e6e6"/>
<path d="M705.5 1054.8h3.4l3.9 13h-11.2z" fill="#e02ea6"/>
<rect x="796.8" y="1058.1" width="3.2" height="8.4" fill="#e2433a"/>
<path d="M1131.6 1054.8h3.4l3.9 13h-11.2z" fill="#8585f2"/>
<path d="M457.6 1073.6h11.4l-4.4 12.9h-2.6z" fill="#926328"/>
<path d="M590.9 1071.8h3.4l3.9 13h-11.2z" fill="#c3c795"/>
<path d="M676.0 1071.8h3.4l3.9 13h-11.2z" fill="#a3e6a3"/>
<rect x="709.4" y="1075.1" width="3.2" height="8.4" fill="#c8d63a"/>
<rect x="752.9" y="1075.1" width="3.2" height="8.4" fill="#e2433a"/>
<path d="M794.3 1073.6h11.4l-4.4 12.9h-2.6z" fill="#8d6fa4"/>
<path d="M815.7 1071.8h3.4l3.9 13h-11.2z" fill="#c3c795"/>
<path d="M867.4 1071.8h3.4l3.9 13h-11.2z" fill="#8585f2"/>
<path d="M902.3 1071.8h3.4l3.9 13h-11.2z" fill="#e02ea6"/>
<path d="M1227.8 1071.8h3.4l3.9 13h-11.2z" fill="#30e6e6"/>
<path d="M633.1 1088.8h3.4l3.9 13h-11.2z" fill="#30e6e6"/>
<path d="M650.0 1088.8h3.4l3.9 13h-11.2z" fill="#30e6e6"/>
<path d="M668.8 1090.6h11.4l-4.4 12.9h-2.6z" fill="#8580d8"/>
<path d="M713.3 1090.6h11.4l-4.4 12.9h-2.6z" fill="#8d6fa4"/>
<path d="M864.3 1090.6h11.4l-4.4 12.9h-2.6z" fill="#c4b6ee"/>
<path d="M896.6 1088.8h3.4l3.9 13h-11.2z" fill="#c3c795"/>
<path d="M912.8 1088.8h3.4l3.9 13h-11.2z" fill="#8585f2"/>
<rect x="920.8" y="1092.1" width="3.2" height="8.4" fill="#5c7c1e"/>
<path d="M1025.9 1090.6h11.4l-4.4 12.9h-2.6z" fill="#8d6fa4"/>
<path d="M1055.5 1090.6h11.4l-4.4 12.9h-2.6z" fill="#926328"/>
<path d="M1204.7 1090.6h11.4l-4.4 12.9h-2.6z" fill="#f3401a"/>
<path d="M1212.7 1090.6h11.4l-4.4 12.9h-2.6z" fill="#f3401a"/>
<rect x="1219.0" y="1092.1" width="3.2" height="8.4" fill="#5c7c1e"/>
<path d="M448.0 1105.8h3.4l3.9 13h-11.2z" fill="#30e6e6"/>
<path d="M490.3 1107.5h11.4l-4.4 12.9h-2.6z" fill="#926328"/>
<path d="M499.8 1105.8h3.4l3.9 13h-11.2z" fill="#30e6e6"/>
<path d="M595.8 1107.5h11.4l-4.4 12.9h-2.6z" fill="#926328"/>
<path d="M741.7 1105.8h3.4l3.9 13h-11.2z" fill="#30e6e6"/>
<path d="M757.1 1107.5h11.4l-4.4 12.9h-2.6z" fill="#926328"/>
<path d="M764.7 1107.5h11.4l-4.4 12.9h-2.6z" fill="#f3401a"/>
<rect x="811.1" y="1109.0" width="3.2" height="8.4" fill="#8d5c5c"/>
<path d="M815.5 1107.5h11.4l-4.4 12.9h-2.6z" fill="#926328"/>
<path d="M860.2 1107.5h11.4l-4.4 12.9h-2.6z" fill="#8d6fa4"/>
<path d="M918.0 1107.5h11.4l-4.4 12.9h-2.6z" fill="#926328"/>
<path d="M938.9 1107.5h11.4l-4.4 12.9h-2.6z" fill="#f3401a"/>
<path d="M946.6 1107.5h11.4l-4.4 12.9h-2.6z" fill="#f3401a"/>
<path d="M964.3 1107.5h11.4l-4.4 12.9h-2.6z" fill="#f3401a"/>
<path d="M971.3 1107.5h11.4l-4.4 12.9h-2.6z" fill="#f3401a"/>
<rect x="975.4" y="1109.0" width="3.2" height="8.4" fill="#5c7c1e"/>
<path d="M993.6 1107.5h11.4l-4.4 12.9h-2.6z" fill="#f3401a"/>
<path d="M1027.1 1105.8h3.4l3.9 13h-11.2z" fill="#8585f2"/>
<path d="M1038.0 1107.5h11.4l-4.4 12.9h-2.6z" fill="#926328"/>
<path d="M1207.9 1107.5h11.4l-4.4 12.9h-2.6z" fill="#f3401a"/>
<path d="M1215.8 1107.5h11.4l-4.4 12.9h-2.6z" fill="#f3401a"/>
<rect x="1221.4" y="1109.0" width="3.2" height="8.4" fill="#5c7c1e"/>
<path d="M437.6 1124.5h11.4l-4.4 12.9h-2.6z" fill="#f3401a"/>
<path d="M557.7 1124.5h11.4l-4.4 12.9h-2.6z" fill="#926328"/>
<path d="M589.3 1122.7h3.4l3.9 13h-11.2z" fill="#30e6e6"/>
<rect x="608.4" y="1126.0" width="3.2" height="8.4" fill="#c8d63a"/>
<rect x="646.6" y="1126.0" width="3.2" height="8.4" fill="#5c7c1e"/>
<rect x="716.4" y="1126.0" width="3.2" height="8.4" fill="#c8d63a"/>
<path d="M808.5 1124.5h11.4l-4.4 12.9h-2.6z" fill="#bfb28c"/>
<path d="M904.0 1124.5h11.4l-4.4 12.9h-2.6z" fill="#f3401a"/>
<rect x="908.1" y="1126.0" width="3.2" height="8.4" fill="#5c7c1e"/>
<path d="M992.0 1124.5h11.4l-4.4 12.9h-2.6z" fill="#8d6fa4"/>
<path d="M1022.1 1124.5h11.4l-4.4 12.9h-2.6z" fill="#926328"/>
<path d="M1056.9 1122.7h3.4l3.9 13h-11.2z" fill="#30e6e6"/>
<path d="M1102.2 1124.5h11.4l-4.4 12.9h-2.6z" fill="#f3401a"/>
<rect x="1106.3" y="1126.0" width="3.2" height="8.4" fill="#5c7c1e"/>
<rect x="1124.0" y="1126.0" width="3.2" height="8.4" fill="#5c7c1e"/>
<path d="M1209.5 1124.5h11.4l-4.4 12.9h-2.6z" fill="#f3401a"/>
<path d="M1217.4 1124.5h11.4l-4.4 12.9h-2.6z" fill="#f3401a"/>
<rect x="1221.5" y="1126.0" width="3.2" height="8.4" fill="#5c7c1e"/>
<path d="M630.6 1139.7h3.4l3.9 13h-11.2z" fill="#e02ea6"/>
<path d="M679.0 1141.5h11.4l-4.4 12.9h-2.6z" fill="#f3401a"/>
<rect x="729.4" y="1143.0" width="3.2" height="8.4" fill="#c8d63a"/>
<path d="M762.4 1139.7h3.4l3.9 13h-11.2z" fill="#3c2246"/>
<path d="M838.1 1141.5h11.4l-4.4 12.9h-2.6z" fill="#f3401a"/>
<path d="M849.1 1139.7h3.4l3.9 13h-11.2z" fill="#30e6e6"/>
<path d="M849.8 1141.5h11.4l-4.4 12.9h-2.6z" fill="#f3401a"/>
<path d="M857.2 1139.7h3.4l3.9 13h-11.2z" fill="#c3c795"/>
<path d="M865.8 1139.7h3.4l3.9 13h-11.2z" fill="#30e6e6"/>
<path d="M868.9 1139.7h3.4l3.9 13h-11.2z" fill="#30e6e6"/>
<path d="M880.1 1139.7h3.4l3.9 13h-11.2z" fill="#c3c795"/>
<path d="M914.2 1141.5h11.4l-4.4 12.9h-2.6z" fill="#f3401a"/>
<path d="M922.1 1141.5h11.4l-4.4 12.9h-2.6z" fill="#926328"/>
<path d="M934.7 1139.7h3.4l3.9 13h-11.2z" fill="#30e6e6"/>
<path d="M944.2 1139.7h3.4l3.9 13h-11.2z" fill="#30e6e6"/>
<path d="M959.4 1139.7h3.4l3.9 13h-11.2z" fill="#e02ea6"/>
<path d="M1199.3 1141.5h11.4l-4.4 12.9h-2.6z" fill="#f3401a"/>
<path d="M1205.8 1141.5h11.4l-4.4 12.9h-2.6z" fill="#f3401a"/>
<path d="M1212.7 1141.5h11.4l-4.4 12.9h-2.6z" fill="#8d6fa4"/>
<path d="M1215.8 1141.5h11.4l-4.4 12.9h-2.6z" fill="#f3401a"/>
<rect x="464.0" y="1160.0" width="3.2" height="8.4" fill="#e2433a"/>
<path d="M575.0 1156.7h3.4l3.9 13h-11.2z" fill="#30e6e6"/>
<rect x="610.0" y="1160.0" width="3.2" height="8.4" fill="#c8d63a"/>
<path d="M645.8 1156.7h3.4l3.9 13h-11.2z" fill="#3c2246"/>
<path d="M720.3 1158.5h11.4l-4.4 12.9h-2.6z" fill="#f3401a"/>
<path d="M730.7 1158.5h11.4l-4.4 12.9h-2.6z" fill="#f3401a"/>
<path d="M738.9 1156.7h3.4l3.9 13h-11.2z" fill="#c3c795"/>
<path d="M745.2 1156.7h3.4l3.9 13h-11.2z" fill="#30e6e6"/>
<path d="M748.4 1156.7h3.4l3.9 13h-11.2z" fill="#30e6e6"/>
<path d="M752.3 1158.5h11.4l-4.4 12.9h-2.6z" fill="#f3401a"/>
<path d="M813.3 1158.5h11.4l-4.4 12.9h-2.6z" fill="#926328"/>
<path d="M825.3 1156.7h3.4l3.9 13h-11.2z" fill="#30e6e6"/>
<path d="M845.3 1156.7h3.4l3.9 13h-11.2z" fill="#30e6e6"/>
<path d="M1017.4 1158.5h11.4l-4.4 12.9h-2.6z" fill="#f3401a"/>
<path d="M1023.0 1156.7h3.4l3.9 13h-11.2z" fill="#30e6e6"/>
<path d="M1199.3 1158.5h11.4l-4.4 12.9h-2.6z" fill="#f3401a"/>
<path d="M1205.8 1158.5h11.4l-4.4 12.9h-2.6z" fill="#f3401a"/>
<path d="M1212.7 1158.5h11.4l-4.4 12.9h-2.6z" fill="#8d6fa4"/>
<path d="M1215.8 1158.5h11.4l-4.4 12.9h-2.6z" fill="#f3401a"/>
<path d="M554.7 1173.6h3.4l3.9 13h-11.2z" fill="#30e6e6"/>
<path d="M602.1 1175.4h11.4l-4.4 12.9h-2.6z" fill="#8d6fa4"/>
<rect x="684.0" y="1176.9" width="3.2" height="8.4" fill="#eaaaee"/>
<path d="M688.7 1173.6h3.4l3.9 13h-11.2z" fill="#30e6e6"/>
<path d="M782.2 1175.4h11.4l-4.4 12.9h-2.6z" fill="#f3401a"/>
<path d="M844.3 1175.4h11.4l-4.4 12.9h-2.6z" fill="#926328"/>
<path d="M884.2 1173.6h3.4l3.9 13h-11.2z" fill="#c3c795"/>
<path d="M906.4 1173.6h3.4l3.9 13h-11.2z" fill="#30e6e6"/>
<path d="M941.8 1175.4h11.4l-4.4 12.9h-2.6z" fill="#c918bb"/>
<path d="M973.1 1173.6h3.4l3.9 13h-11.2z" fill="#30e6e6"/>
<path d="M1126.2 1173.6h3.4l3.9 13h-11.2z" fill="#e02ea6"/>
<path d="M1188.7 1173.6h3.4l3.9 13h-11.2z" fill="#e02ea6"/>
<rect x="1208.8" y="1176.9" width="3.2" height="8.4" fill="#7b9c8c"/>
<path d="M1217.4 1175.4h11.4l-4.4 12.9h-2.6z" fill="#f3401a"/>
<path d="M458.6 1192.4h11.4l-4.4 12.9h-2.6z" fill="#bfb28c"/>
<path d="M514.7 1190.6h3.4l3.9 13h-11.2z" fill="#30e6e6"/>
<path d="M524.3 1192.4h11.4l-4.4 12.9h-2.6z" fill="#8d6fa4"/>
<rect x="705.3" y="1193.9" width="3.2" height="8.4" fill="#e2433a"/>
<path d="M721.9 1192.4h11.4l-4.4 12.9h-2.6z" fill="#c4b6ee"/>
<path d="M792.7 1192.4h11.4l-4.4 12.9h-2.6z" fill="#f3401a"/>
<path d="M859.2 1192.4h11.4l-4.4 12.9h-2.6z" fill="#926328"/>
<path d="M898.5 1190.6h3.4l3.9 13h-11.2z" fill="#c3c795"/>
<path d="M917.5 1190.6h3.4l3.9 13h-11.2z" fill="#30e6e6"/>
<path d="M952.9 1192.4h11.4l-4.4 12.9h-2.6z" fill="#c918bb"/>
<path d="M984.2 1190.6h3.4l3.9 13h-11.2z" fill="#30e6e6"/>
<rect x="1035.8" y="1193.9" width="3.2" height="8.4" fill="#eaaaee"/>
<path d="M1130.3 1190.6h3.4l3.9 13h-11.2z" fill="#e02ea6"/>
<path d="M1192.2 1190.6h3.4l3.9 13h-11.2z" fill="#e02ea6"/>
<rect x="1209.5" y="1193.9" width="3.2" height="8.4" fill="#7b9c8c"/>
<path d="M1218.1 1192.4h11.4l-4.4 12.9h-2.6z" fill="#f3401a"/>
<path d="M441.6 1207.6h3.4l3.9 13h-11.2z" fill="#70a290"/>
<path d="M461.8 1209.4h11.4l-4.4 12.9h-2.6z" fill="#8d6fa4"/>
<path d="M491.6 1209.4h11.4l-4.4 12.9h-2.6z" fill="#8d6fa4"/>
<path d="M589.3 1207.6h3.4l3.9 13h-11.2z" fill="#30e6e6"/>
<rect x="618.9" y="1210.9" width="3.2" height="8.4" fill="#eaaaee"/>
<path d="M623.4 1209.4h11.4l-4.4 12.9h-2.6z" fill="#c918bb"/>
<rect x="633.2" y="1210.9" width="3.2" height="8.4" fill="#eaaaee"/>
<path d="M716.3 1207.6h3.4l3.9 13h-11.2z" fill="#30e6e6"/>
<rect x="821.2" y="1210.9" width="3.2" height="8.4" fill="#e2433a"/>
<rect x="904.9" y="1210.9" width="3.2" height="8.4" fill="#7b9c8c"/>
<rect x="962.1" y="1210.9" width="3.2" height="8.4" fill="#8d5c5c"/>
<path d="M1025.3 1209.4h11.4l-4.4 12.9h-2.6z" fill="#926328"/>
<path d="M1060.9 1209.4h11.4l-4.4 12.9h-2.6z" fill="#f3401a"/>
<rect x="1065.0" y="1210.9" width="3.2" height="8.4" fill="#5c7c1e"/>
<path d="M1083.1 1209.4h11.4l-4.4 12.9h-2.6z" fill="#f3401a"/>
<rect x="1087.2" y="1210.9" width="3.2" height="8.4" fill="#5c7c1e"/>
<path d="M1156.5 1209.4h11.4l-4.4 12.9h-2.6z" fill="#f3401a"/>
<rect x="1160.6" y="1210.9" width="3.2" height="8.4" fill="#5c7c1e"/>
<path d="M1168.4 1207.6h3.4l3.9 13h-11.2z" fill="#30e6e6"/>
<path d="M1197.7 1209.4h11.4l-4.4 12.9h-2.6z" fill="#8d6fa4"/>
<path d="M1243.7 1207.6h3.4l3.9 13h-11.2z" fill="#30e6e6"/>
<path d="M1246.0 1209.4h11.4l-4.4 12.9h-2.6z" fill="#8d6fa4"/>
<path d="M461.8 1226.3h11.4l-4.4 12.9h-2.6z" fill="#8d6fa4"/>
<path d="M480.8 1226.3h11.4l-4.4 12.9h-2.6z" fill="#8d6fa4"/>
<path d="M491.6 1226.3h11.4l-4.4 12.9h-2.6z" fill="#8d6fa4"/>
<path d="M537.9 1224.5h3.4l3.9 13h-11.2z" fill="#70a290"/>
<path d="M588.5 1226.3h11.4l-4.4 12.9h-2.6z" fill="#8d6fa4"/>
<path d="M686.2 1224.5h3.4l3.9 13h-11.2z" fill="#30e6e6"/>
<path d="M711.7 1226.3h11.4l-4.4 12.9h-2.6z" fill="#c918bb"/>
<rect x="721.2" y="1227.8" width="3.2" height="8.4" fill="#eaaaee"/>
<path d="M804.6 1224.5h3.4l3.9 13h-11.2z" fill="#30e6e6"/>
<rect x="911.0" y="1227.8" width="3.2" height="8.4" fill="#e2433a"/>
<rect x="994.5" y="1227.8" width="3.2" height="8.4" fill="#7b9c8c"/>
<path d="M1027.9 1226.3h11.4l-4.4 12.9h-2.6z" fill="#926328"/>
<path d="M1063.4 1226.3h11.4l-4.4 12.9h-2.6z" fill="#f3401a"/>
<rect x="1067.5" y="1227.8" width="3.2" height="8.4" fill="#5c7c1e"/>
<path d="M1085.6 1226.3h11.4l-4.4 12.9h-2.6z" fill="#f3401a"/>
<rect x="1089.7" y="1227.8" width="3.2" height="8.4" fill="#5c7c1e"/>
<rect x="1158.0" y="1227.8" width="3.2" height="8.4" fill="#c8d63a"/>
<path d="M1169.7 1224.5h3.4l3.9 13h-11.2z" fill="#30e6e6"/>
<path d="M1199.3 1226.3h11.4l-4.4 12.9h-2.6z" fill="#8d6fa4"/>
<path d="M1226.3 1226.3h11.4l-4.4 12.9h-2.6z" fill="#926328"/>
<path d="M1243.0 1224.5h3.4l3.9 13h-11.2z" fill="#30e6e6"/>
<path d="M1246.0 1226.3h11.4l-4.4 12.9h-2.6z" fill="#8d6fa4"/>
<path d="M465.8 1241.5h3.4l3.9 13h-11.2z" fill="#30e6e6"/>
<path d="M469.6 1241.5h3.4l3.9 13h-11.2z" fill="#30e6e6"/>
<path d="M499.9 1243.3h11.4l-4.4 12.9h-2.6z" fill="#c4b6ee"/>
<path d="M575.0 1241.5h3.4l3.9 13h-11.2z" fill="#8585f2"/>
<path d="M627.5 1243.3h11.4l-4.4 12.9h-2.6z" fill="#8d6fa4"/>
<path d="M652.8 1241.5h3.4l3.9 13h-11.2z" fill="#8585f2"/>
<rect x="679.9" y="1244.8" width="3.2" height="8.4" fill="#8d5c5c"/>
<path d="M752.8 1241.5h3.4l3.9 13h-11.2z" fill="#30e6e6"/>
<path d="M776.0 1241.5h3.4l3.9 13h-11.2z" fill="#30e6e6"/>
<path d="M787.1 1241.5h3.4l3.9 13h-11.2z" fill="#30e6e6"/>
<path d="M930.0 1243.3h11.4l-4.4 12.9h-2.6z" fill="#926328"/>
<path d="M954.5 1243.3h11.4l-4.4 12.9h-2.6z" fill="#f3401a"/>
<rect x="1054.2" y="1244.8" width="3.2" height="8.4" fill="#eaaaee"/>
<rect x="1070.1" y="1244.8" width="3.2" height="8.4" fill="#c8d63a"/>
<path d="M1172.2 1241.5h3.4l3.9 13h-11.2z" fill="#e02ea6"/>
<path d="M1173.6 1243.3h11.4l-4.4 12.9h-2.6z" fill="#f3401a"/>
<path d="M1182.5 1243.3h11.4l-4.4 12.9h-2.6z" fill="#8d6fa4"/>
<path d="M1251.0 1241.5h3.4l3.9 13h-11.2z" fill="#30e6e6"/>
<path d="M1256.4 1241.5h3.4l3.9 13h-11.2z" fill="#30e6e6"/>
<rect x="481.8" y="1261.8" width="3.2" height="8.4" fill="#c8d63a"/>
<path d="M488.0 1258.5h3.4l3.9 13h-11.2z" fill="#30e6e6"/>
<path d="M621.2 1260.3h11.4l-4.4 12.9h-2.6z" fill="#926328"/>
<path d="M645.6 1260.3h11.4l-4.4 12.9h-2.6z" fill="#f3401a"/>
<path d="M652.3 1260.3h11.4l-4.4 12.9h-2.6z" fill="#8580d8"/>
<path d="M734.7 1258.5h3.4l3.9 13h-11.2z" fill="#c3c795"/>
<path d="M874.3 1258.5h3.4l3.9 13h-11.2z" fill="#3c2246"/>
<path d="M933.4 1258.5h3.4l3.9 13h-11.2z" fill="#c3c795"/>
<path d="M938.2 1258.5h3.4l3.9 13h-11.2z" fill="#c3c795"/>
<rect x="946.8" y="1261.8" width="3.2" height="8.4" fill="#c8d63a"/>
<path d="M975.3 1258.5h3.4l3.9 13h-11.2z" fill="#c3c795"/>
<path d="M995.3 1258.5h3.4l3.9 13h-11.2z" fill="#c3c795"/>
<rect x="1052.6" y="1261.8" width="3.2" height="8.4" fill="#eaaaee"/>
<rect x="1068.5" y="1261.8" width="3.2" height="8.4" fill="#c8d63a"/>
<path d="M1173.2 1258.5h3.4l3.9 13h-11.2z" fill="#e02ea6"/>
<path d="M1182.5 1260.3h11.4l-4.4 12.9h-2.6z" fill="#8d6fa4"/>
<path d="M1256.4 1258.5h3.4l3.9 13h-11.2z" fill="#30e6e6"/>
<rect x="470.3" y="1278.8" width="3.2" height="8.4" fill="#c8d63a"/>
<path d="M519.8 1275.5h3.4l3.9 13h-11.2z" fill="#8585f2"/>
<rect x="541.1" y="1278.8" width="3.2" height="8.4" fill="#c8d63a"/>
<rect x="623.7" y="1278.8" width="3.2" height="8.4" fill="#7b9c8c"/>
<path d="M679.2 1275.5h3.4l3.9 13h-11.2z" fill="#8585f2"/>
<rect x="743.4" y="1278.8" width="3.2" height="8.4" fill="#c8d63a"/>
<path d="M803.0 1275.5h3.4l3.9 13h-11.2z" fill="#30e6e6"/>
<path d="M840.5 1275.5h3.4l3.9 13h-11.2z" fill="#30e6e6"/>
<path d="M881.6 1275.5h3.4l3.9 13h-11.2z" fill="#30e6e6"/>
<path d="M949.7 1277.2h11.4l-4.4 12.9h-2.6z" fill="#926328"/>
<path d="M961.8 1277.2h11.4l-4.4 12.9h-2.6z" fill="#f3401a"/>
<rect x="965.9" y="1278.8" width="3.2" height="8.4" fill="#5c7c1e"/>
<path d="M972.9 1277.2h11.4l-4.4 12.9h-2.6z" fill="#f3401a"/>
<path d="M984.0 1277.2h11.4l-4.4 12.9h-2.6z" fill="#f3401a"/>
<rect x="988.1" y="1278.8" width="3.2" height="8.4" fill="#5c7c1e"/>
<rect x="1093.9" y="1278.8" width="3.2" height="8.4" fill="#c8d63a"/>
<path d="M1252.3 1275.5h3.4l3.9 13h-11.2z" fill="#30e6e6"/>
<rect x="515.7" y="1295.7" width="3.2" height="8.4" fill="#5c7c1e"/>
<path d="M575.0 1292.4h3.4l3.9 13h-11.2z" fill="#8585f2"/>
<path d="M665.6 1294.2h11.4l-4.4 12.9h-2.6z" fill="#f3401a"/>
<rect x="673.6" y="1295.7" width="3.2" height="8.4" fill="#7b9c8c"/>
<path d="M679.9 1294.2h11.4l-4.4 12.9h-2.6z" fill="#f3401a"/>
<path d="M683.1 1294.2h11.4l-4.4 12.9h-2.6z" fill="#f3401a"/>
<path d="M765.5 1292.4h3.4l3.9 13h-11.2z" fill="#30e6e6"/>
<path d="M876.2 1292.4h3.4l3.9 13h-11.2z" fill="#8585f2"/>
<path d="M918.8 1292.4h3.4l3.9 13h-11.2z" fill="#2f42e0"/>
<rect x="1017.3" y="1295.7" width="3.2" height="8.4" fill="#e2433a"/>
<rect x="1052.3" y="1295.7" width="3.2" height="8.4" fill="#c8d63a"/>
<rect x="1094.5" y="1295.7" width="3.2" height="8.4" fill="#c8d63a"/>
<rect x="1171.4" y="1295.7" width="3.2" height="8.4" fill="#c8d63a"/>
<path d="M1194.4 1292.4h3.4l3.9 13h-11.2z" fill="#c3c795"/>
<path d="M1243.0 1292.4h3.4l3.9 13h-11.2z" fill="#c3c795"/>
<path d="M437.0 1311.2h11.4l-4.4 12.9h-2.6z" fill="#f3401a"/>
<path d="M471.2 1309.4h3.4l3.9 13h-11.2z" fill="#30e6e6"/>
<path d="M643.4 1311.2h11.4l-4.4 12.9h-2.6z" fill="#926328"/>
<rect x="834.9" y="1312.7" width="3.2" height="8.4" fill="#5c7c1e"/>
<path d="M865.9 1311.2h11.4l-4.4 12.9h-2.6z" fill="#926328"/>
<path d="M876.2 1309.4h3.4l3.9 13h-11.2z" fill="#8585f2"/>
<path d="M965.9 1311.2h11.4l-4.4 12.9h-2.6z" fill="#926328"/>
<rect x="975.4" y="1312.7" width="3.2" height="8.4" fill="#7b9c8c"/>
<path d="M979.3 1311.2h11.4l-4.4 12.9h-2.6z" fill="#f3401a"/>
<path d="M985.6 1311.2h11.4l-4.4 12.9h-2.6z" fill="#f3401a"/>
<path d="M1072.3 1311.2h11.4l-4.4 12.9h-2.6z" fill="#926328"/>
<path d="M1101.4 1309.4h3.4l3.9 13h-11.2z" fill="#2f42e0"/>
<path d="M479.1 1326.4h3.4l3.9 13h-11.2z" fill="#30e6e6"/>
<path d="M541.2 1328.2h11.4l-4.4 12.9h-2.6z" fill="#f3401a"/>
<path d="M545.0 1328.2h11.4l-4.4 12.9h-2.6z" fill="#926328"/>
<path d="M622.8 1328.2h11.4l-4.4 12.9h-2.6z" fill="#f3401a"/>
<rect x="626.9" y="1329.7" width="3.2" height="8.4" fill="#5c7c1e"/>
<path d="M726.0 1328.2h11.4l-4.4 12.9h-2.6z" fill="#f3401a"/>
<rect x="748.5" y="1329.7" width="3.2" height="8.4" fill="#eaaaee"/>
<path d="M761.5 1328.2h11.4l-4.4 12.9h-2.6z" fill="#926328"/>
<path d="M796.5 1328.2h11.4l-4.4 12.9h-2.6z" fill="#f3401a"/>
<rect x="800.6" y="1329.7" width="3.2" height="8.4" fill="#5c7c1e"/>
<path d="M807.0 1328.2h11.4l-4.4 12.9h-2.6z" fill="#8d6fa4"/>
<path d="M901.5 1328.2h11.4l-4.4 12.9h-2.6z" fill="#926328"/>
<path d="M996.0 1326.4h3.4l3.9 13h-11.2z" fill="#30e6e6"/>
<rect x="1006.5" y="1329.7" width="3.2" height="8.4" fill="#5c7c1e"/>
<path d="M1018.8 1326.4h3.4l3.9 13h-11.2z" fill="#8585f2"/>
<path d="M1096.0 1326.4h3.4l3.9 13h-11.2z" fill="#30e6e6"/>
<path d="M1129.5 1328.2h11.4l-4.4 12.9h-2.6z" fill="#c4b6ee"/>
<path d="M1154.7 1326.4h3.4l3.9 13h-11.2z" fill="#8585f2"/>
<path d="M1162.7 1326.4h3.4l3.9 13h-11.2z" fill="#c3c795"/>
<path d="M1165.0 1328.2h11.4l-4.4 12.9h-2.6z" fill="#f3401a"/>
<rect x="1185.0" y="1329.7" width="3.2" height="8.4" fill="#5c7c1e"/>
<path d="M1211.1 1328.2h11.4l-4.4 12.9h-2.6z" fill="#f3401a"/>
<path d="M1219.8 1326.4h3.4l3.9 13h-11.2z" fill="#30e6e6"/>
<rect x="1225.4" y="1329.7" width="3.2" height="8.4" fill="#5c7c1e"/>
<path d="M507.5 1345.1h11.4l-4.4 12.9h-2.6z" fill="#f3401a"/>
<path d="M510.0 1345.1h11.4l-4.4 12.9h-2.6z" fill="#926328"/>
<rect x="597.3" y="1346.6" width="3.2" height="8.4" fill="#e2433a"/>
<path d="M652.0 1345.1h11.4l-4.4 12.9h-2.6z" fill="#926328"/>
<path d="M695.8 1345.1h11.4l-4.4 12.9h-2.6z" fill="#926328"/>
<path d="M703.8 1345.1h11.4l-4.4 12.9h-2.6z" fill="#8d6fa4"/>
<path d="M727.4 1343.3h3.4l3.9 13h-11.2z" fill="#30e6e6"/>
<path d="M844.3 1343.3h3.4l3.9 13h-11.2z" fill="#c3c795"/>
<rect x="897.6" y="1346.6" width="3.2" height="8.4" fill="#c8d63a"/>
<path d="M903.0 1345.1h11.4l-4.4 12.9h-2.6z" fill="#f3401a"/>
<rect x="907.1" y="1346.6" width="3.2" height="8.4" fill="#5c7c1e"/>
<path d="M935.8 1345.1h11.4l-4.4 12.9h-2.6z" fill="#f3401a"/>
<rect x="939.9" y="1346.6" width="3.2" height="8.4" fill="#5c7c1e"/>
<path d="M1019.1 1343.3h3.4l3.9 13h-11.2z" fill="#8585f2"/>
<rect x="1129.4" y="1346.6" width="3.2" height="8.4" fill="#c8d63a"/>
<path d="M1179.5 1343.3h3.4l3.9 13h-11.2z" fill="#30e6e6"/>
<path d="M1204.7 1345.1h11.4l-4.4 12.9h-2.6z" fill="#f3401a"/>
<rect x="1217.7" y="1346.6" width="3.2" height="8.4" fill="#5c7c1e"/>
<path d="M1223.8 1345.1h11.4l-4.4 12.9h-2.6z" fill="#f3401a"/>
<path d="M448.1 1362.1h11.4l-4.4 12.9h-2.6z" fill="#f3401a"/>
<path d="M451.3 1362.1h11.4l-4.4 12.9h-2.6z" fill="#926328"/>
<rect x="542.1" y="1363.6" width="3.2" height="8.4" fill="#5c7c1e"/>
<path d="M669.5 1362.1h11.4l-4.4 12.9h-2.6z" fill="#f3401a"/>
<path d="M679.8 1360.3h3.4l3.9 13h-11.2z" fill="#30e6e6"/>
<path d="M724.6 1360.3h3.4l3.9 13h-11.2z" fill="#30e6e6"/>
<path d="M843.7 1360.3h3.4l3.9 13h-11.2z" fill="#c3c795"/>
<rect x="898.6" y="1363.6" width="3.2" height="8.4" fill="#c8d63a"/>
<path d="M936.4 1362.1h11.4l-4.4 12.9h-2.6z" fill="#f3401a"/>
<rect x="940.5" y="1363.6" width="3.2" height="8.4" fill="#5c7c1e"/>
<path d="M1031.9 1360.3h3.4l3.9 13h-11.2z" fill="#8585f2"/>
<path d="M1068.2 1362.1h11.4l-4.4 12.9h-2.6z" fill="#bfb28c"/>
<rect x="1135.8" y="1363.6" width="3.2" height="8.4" fill="#c8d63a"/>
<rect x="1166.9" y="1363.6" width="3.2" height="8.4" fill="#e2433a"/>
<path d="M1181.1 1360.3h3.4l3.9 13h-11.2z" fill="#30e6e6"/>
<path d="M1205.4 1362.1h11.4l-4.4 12.9h-2.6z" fill="#f3401a"/>
<rect x="1218.4" y="1363.6" width="3.2" height="8.4" fill="#c8d63a"/>
<path d="M1223.0 1360.3h3.4l3.9 13h-11.2z" fill="#30e6e6"/>
<path d="M1225.3 1362.1h11.4l-4.4 12.9h-2.6z" fill="#f3401a"/>
<rect x="513.5" y="1380.6" width="3.2" height="8.4" fill="#c8d63a"/>
<path d="M767.3 1379.1h11.4l-4.4 12.9h-2.6z" fill="#f3401a"/>
<path d="M816.5 1379.1h11.4l-4.4 12.9h-2.6z" fill="#f3401a"/>
<path d="M843.3 1379.1h11.4l-4.4 12.9h-2.6z" fill="#926328"/>
<path d="M932.6 1379.1h11.4l-4.4 12.9h-2.6z" fill="#8580d8"/>
<path d="M943.4 1379.1h11.4l-4.4 12.9h-2.6z" fill="#926328"/>
<path d="M953.1 1377.3h3.4l3.9 13h-11.2z" fill="#30e6e6"/>
<rect x="1154.2" y="1380.6" width="3.2" height="8.4" fill="#5c7c1e"/>
<path d="M1193.8 1377.3h3.4l3.9 13h-11.2z" fill="#30e6e6"/>
<path d="M471.2 1394.2h3.4l3.9 13h-11.2z" fill="#30e6e6"/>
<path d="M525.3 1396.0h11.4l-4.4 12.9h-2.6z" fill="#ea6a4c"/>
<path d="M533.9 1396.0h11.4l-4.4 12.9h-2.6z" fill="#ea6a4c"/>
<path d="M559.3 1396.0h11.4l-4.4 12.9h-2.6z" fill="#f3401a"/>
<path d="M562.4 1396.0h11.4l-4.4 12.9h-2.6z" fill="#926328"/>
<path d="M576.0 1394.2h3.4l3.9 13h-11.2z" fill="#30e6e6"/>
<path d="M732.5 1394.2h3.4l3.9 13h-11.2z" fill="#30e6e6"/>
<path d="M755.5 1396.0h11.4l-4.4 12.9h-2.6z" fill="#f3401a"/>
<path d="M913.5 1396.0h11.4l-4.4 12.9h-2.6z" fill="#8580d8"/>
<rect x="936.7" y="1397.5" width="3.2" height="8.4" fill="#c8d63a"/>
<path d="M998.5 1394.2h3.4l3.9 13h-11.2z" fill="#30e6e6"/>
<path d="M1005.5 1394.2h3.4l3.9 13h-11.2z" fill="#2f42e0"/>
<path d="M1095.2 1396.0h11.4l-4.4 12.9h-2.6z" fill="#f3401a"/>
<rect x="1146.0" y="1397.5" width="3.2" height="8.4" fill="#c8d63a"/>
<path d="M1246.2 1394.2h3.4l3.9 13h-11.2z" fill="#30e6e6"/>
<path d="M508.5 1413.0h11.4l-4.4 12.9h-2.6z" fill="#f3401a"/>
<path d="M549.7 1413.0h11.4l-4.4 12.9h-2.6z" fill="#8d6fa4"/>
<path d="M641.7 1411.2h3.4l3.9 13h-11.2z" fill="#30e6e6"/>
<path d="M691.1 1413.0h11.4l-4.4 12.9h-2.6z" fill="#ea6a4c"/>
<path d="M715.8 1413.0h11.4l-4.4 12.9h-2.6z" fill="#f3401a"/>
<path d="M719.6 1413.0h11.4l-4.4 12.9h-2.6z" fill="#926328"/>
<path d="M733.2 1411.2h3.4l3.9 13h-11.2z" fill="#30e6e6"/>
<rect x="795.8" y="1414.5" width="3.2" height="8.4" fill="#c8d63a"/>
<path d="M1084.1 1413.0h11.4l-4.4 12.9h-2.6z" fill="#f3401a"/>
<rect x="1135.8" y="1414.5" width="3.2" height="8.4" fill="#c8d63a"/>
<path d="M1155.5 1413.0h11.4l-4.4 12.9h-2.6z" fill="#f3401a"/>
<path d="M1242.1 1411.2h3.4l3.9 13h-11.2z" fill="#30e6e6"/>
<rect x="1249.5" y="1414.5" width="3.2" height="8.4" fill="#e01e7c"/>
<path d="M678.2 1428.2h3.4l3.9 13h-11.2z" fill="#30e6e6"/>
<rect x="764.1" y="1431.5" width="3.2" height="8.4" fill="#c8d63a"/>
<path d="M780.6 1430.0h11.4l-4.4 12.9h-2.6z" fill="#926328"/>
<path d="M806.2 1428.2h3.4l3.9 13h-11.2z" fill="#30e6e6"/>
<rect x="818.4" y="1431.5" width="3.2" height="8.4" fill="#e2433a"/>
<path d="M823.0 1428.2h3.4l3.9 13h-11.2z" fill="#30e6e6"/>
<path d="M843.5 1430.0h11.4l-4.4 12.9h-2.6z" fill="#f3401a"/>
<path d="M855.4 1430.0h11.4l-4.4 12.9h-2.6z" fill="#f3401a"/>
<path d="M901.5 1430.0h11.4l-4.4 12.9h-2.6z" fill="#bfb28c"/>
<rect x="1238.4" y="1431.5" width="3.2" height="8.4" fill="#8d5c5c"/>
<path d="M1243.8 1430.0h11.4l-4.4 12.9h-2.6z" fill="#926328"/>
<rect x="480.8" y="1448.4" width="3.2" height="8.4" fill="#e2433a"/>
<path d="M496.7 1446.9h11.4l-4.4 12.9h-2.6z" fill="#926328"/>
<path d="M533.2 1446.9h11.4l-4.4 12.9h-2.6z" fill="#926328"/>
<rect x="549.4" y="1448.4" width="3.2" height="8.4" fill="#5c7c1e"/>
<rect x="625.3" y="1448.4" width="3.2" height="8.4" fill="#c8d63a"/>
<path d="M757.0 1445.1h3.4l3.9 13h-11.2z" fill="#e02ea6"/>
<path d="M794.4 1445.1h3.4l3.9 13h-11.2z" fill="#30e6e6"/>
<path d="M947.4 1445.1h3.4l3.9 13h-11.2z" fill="#c3c795"/>
<path d="M960.2 1446.9h11.4l-4.4 12.9h-2.6z" fill="#8d6fa4"/>
<path d="M1008.7 1445.1h3.4l3.9 13h-11.2z" fill="#70a290"/>
<path d="M1121.4 1445.1h3.4l3.9 13h-11.2z" fill="#c3c795"/>
<path d="M1127.9 1446.9h11.4l-4.4 12.9h-2.6z" fill="#8580d8"/>
<path d="M1191.1 1446.9h11.4l-4.4 12.9h-2.6z" fill="#f3401a"/>
<path d="M1224.7 1446.9h11.4l-4.4 12.9h-2.6z" fill="#f3401a"/>
<rect x="1228.8" y="1448.4" width="3.2" height="8.4" fill="#5c7c1e"/>
<path d="M1238.3 1445.1h3.4l3.9 13h-11.2z" fill="#70a290"/>
<path d="M488.4 1480.9h11.4l-4.4 12.9h-2.6z" fill="#8580d8"/>
<path d="M542.6 1479.1h3.4l3.9 13h-11.2z" fill="#e02ea6"/>
<path d="M590.3 1479.1h3.4l3.9 13h-11.2z" fill="#30e6e6"/>
<path d="M720.6 1480.9h11.4l-4.4 12.9h-2.6z" fill="#ea6a4c"/>
<path d="M747.3 1480.9h11.4l-4.4 12.9h-2.6z" fill="#926328"/>
<path d="M809.2 1480.9h11.4l-4.4 12.9h-2.6z" fill="#926328"/>
<path d="M1034.8 1480.9h11.4l-4.4 12.9h-2.6z" fill="#8580d8"/>
<path d="M1050.6 1479.1h3.4l3.9 13h-11.2z" fill="#e02ea6"/>
<path d="M1099.9 1480.9h11.4l-4.4 12.9h-2.6z" fill="#8580d8"/>
<path d="M1114.9 1480.9h11.4l-4.4 12.9h-2.6z" fill="#8580d8"/>
<path d="M474.2 1497.9h11.4l-4.4 12.9h-2.6z" fill="#f3401a"/>
<path d="M480.5 1497.9h11.4l-4.4 12.9h-2.6z" fill="#8580d8"/>
<path d="M523.6 1496.1h3.4l3.9 13h-11.2z" fill="#c3c795"/>
<path d="M556.1 1497.9h11.4l-4.4 12.9h-2.6z" fill="#926328"/>
<rect x="631.0" y="1499.4" width="3.2" height="8.4" fill="#e2433a"/>
<path d="M685.5 1496.1h3.4l3.9 13h-11.2z" fill="#30e6e6"/>
<path d="M694.2 1497.9h11.4l-4.4 12.9h-2.6z" fill="#926328"/>
<path d="M729.2 1497.9h11.4l-4.4 12.9h-2.6z" fill="#f3401a"/>
<rect x="744.4" y="1499.4" width="3.2" height="8.4" fill="#5c7c1e"/>
<path d="M747.6 1497.9h11.4l-4.4 12.9h-2.6z" fill="#926328"/>
<path d="M760.3 1497.9h11.4l-4.4 12.9h-2.6z" fill="#926328"/>
<path d="M990.3 1497.9h11.4l-4.4 12.9h-2.6z" fill="#f3401a"/>
<path d="M986.3 1497.9h11.4l-4.4 12.9h-2.6z" fill="#8d6fa4"/>
<path d="M1254.1 1496.1h3.4l3.9 13h-11.2z" fill="#e02ea6"/>
<rect x="450.0" y="1516.3" width="3.2" height="8.4" fill="#c8d63a"/>
<path d="M532.3 1514.8h11.4l-4.4 12.9h-2.6z" fill="#8580d8"/>
<path d="M622.8 1514.8h11.4l-4.4 12.9h-2.6z" fill="#bfb28c"/>
<rect x="656.4" y="1516.3" width="3.2" height="8.4" fill="#5c7c1e"/>
<rect x="707.9" y="1516.3" width="3.2" height="8.4" fill="#5c7c1e"/>
<path d="M772.8 1513.0h3.4l3.9 13h-11.2z" fill="#30e6e6"/>
<path d="M808.5 1514.8h11.4l-4.4 12.9h-2.6z" fill="#c918bb"/>
<path d="M824.6 1513.0h3.4l3.9 13h-11.2z" fill="#e02ea6"/>
<path d="M1044.2 1513.0h3.4l3.9 13h-11.2z" fill="#30e6e6"/>
<rect x="1095.1" y="1516.3" width="3.2" height="8.4" fill="#7b9c8c"/>
<path d="M1115.8 1514.8h11.4l-4.4 12.9h-2.6z" fill="#926328"/>
<path d="M1127.8 1513.0h3.4l3.9 13h-11.2z" fill="#8585f2"/>
<path d="M1126.9 1514.8h11.4l-4.4 12.9h-2.6z" fill="#8580d8"/>
<path d="M437.6 1531.8h11.4l-4.4 12.9h-2.6z" fill="#bfb28c"/>
<path d="M539.3 1531.8h11.4l-4.4 12.9h-2.6z" fill="#926328"/>
<path d="M573.6 1531.8h11.4l-4.4 12.9h-2.6z" fill="#926328"/>
<path d="M586.4 1530.0h3.4l3.9 13h-11.2z" fill="#30e6e6"/>
<path d="M630.6 1530.0h3.4l3.9 13h-11.2z" fill="#30e6e6"/>
<path d="M955.3 1530.0h3.4l3.9 13h-11.2z" fill="#30e6e6"/>
<path d="M1000.7 1530.0h3.4l3.9 13h-11.2z" fill="#30e6e6"/>
<path d="M999.0 1531.8h11.4l-4.4 12.9h-2.6z" fill="#926328"/>
<path d="M1097.6 1530.0h3.4l3.9 13h-11.2z" fill="#e02ea6"/>
<path d="M1239.7 1531.8h11.4l-4.4 12.9h-2.6z" fill="#926328"/>
<path d="M444.0 1548.8h11.4l-4.4 12.9h-2.6z" fill="#f3401a"/>
<rect x="448.1" y="1550.3" width="3.2" height="8.4" fill="#5c7c1e"/>
<path d="M599.8 1547.0h3.4l3.9 13h-11.2z" fill="#70a290"/>
<path d="M596.8 1547.0h3.4l3.9 13h-11.2z" fill="#e02ea6"/>
<rect x="683.1" y="1550.3" width="3.2" height="8.4" fill="#e2433a"/>
<path d="M712.6 1548.8h11.4l-4.4 12.9h-2.6z" fill="#f3401a"/>
<path d="M764.0 1547.0h3.4l3.9 13h-11.2z" fill="#8585f2"/>
<path d="M779.2 1547.0h3.4l3.9 13h-11.2z" fill="#30e6e6"/>
<path d="M883.0 1548.8h11.4l-4.4 12.9h-2.6z" fill="#8d6fa4"/>
<path d="M930.7 1548.8h11.4l-4.4 12.9h-2.6z" fill="#8d6fa4"/>
<path d="M971.3 1547.0h3.4l3.9 13h-11.2z" fill="#c3c795"/>
<path d="M974.4 1547.0h3.4l3.9 13h-11.2z" fill="#2f42e0"/>
<path d="M999.9 1548.8h11.4l-4.4 12.9h-2.6z" fill="#926328"/>
<path d="M1031.0 1548.8h11.4l-4.4 12.9h-2.6z" fill="#926328"/>
<path d="M1123.1 1548.8h11.4l-4.4 12.9h-2.6z" fill="#8d6fa4"/>
<path d="M1130.3 1547.0h3.4l3.9 13h-11.2z" fill="#30e6e6"/>
<path d="M1166.5 1547.0h3.4l3.9 13h-11.2z" fill="#30e6e6"/>
<path d="M1187.9 1548.8h11.4l-4.4 12.9h-2.6z" fill="#c4b6ee"/>
<rect x="1250.1" y="1550.3" width="3.2" height="8.4" fill="#c8d63a"/>
<path d="M640.9 1565.7h11.4l-4.4 12.9h-2.6z" fill="#8580d8"/>
<rect x="775.5" y="1567.2" width="3.2" height="8.4" fill="#c8d63a"/>
<path d="M800.0 1565.7h11.4l-4.4 12.9h-2.6z" fill="#f3401a"/>
<path d="M887.4 1563.9h3.4l3.9 13h-11.2z" fill="#c3c795"/>
<path d="M1050.7 1565.7h11.4l-4.4 12.9h-2.6z" fill="#f3401a"/>
<rect x="1054.8" y="1567.2" width="3.2" height="8.4" fill="#5c7c1e"/>
<rect x="1210.4" y="1567.2" width="3.2" height="8.4" fill="#c8d63a"/>
<rect x="1250.1" y="1567.2" width="3.2" height="8.4" fill="#c8d63a"/>
<path d="M515.8 1582.7h11.4l-4.4 12.9h-2.6z" fill="#8d6fa4"/>
<path d="M559.1 1580.9h3.4l3.9 13h-11.2z" fill="#30e6e6"/>
<path d="M582.3 1580.9h3.4l3.9 13h-11.2z" fill="#e02ea6"/>
<path d="M594.8 1582.7h11.4l-4.4 12.9h-2.6z" fill="#f3401a"/>
<rect x="685.0" y="1584.2" width="3.2" height="8.4" fill="#e2433a"/>
<path d="M842.7 1580.9h3.4l3.9 13h-11.2z" fill="#8585f2"/>
<path d="M851.8 1582.7h11.4l-4.4 12.9h-2.6z" fill="#f3401a"/>
<rect x="855.9" y="1584.2" width="3.2" height="8.4" fill="#5c7c1e"/>
<path d="M889.6 1580.9h3.4l3.9 13h-11.2z" fill="#30e6e6"/>
<path d="M893.4 1580.9h3.4l3.9 13h-11.2z" fill="#c3c795"/>
<path d="M918.8 1580.9h3.4l3.9 13h-11.2z" fill="#c3c795"/>
<path d="M982.4 1582.7h11.4l-4.4 12.9h-2.6z" fill="#926328"/>
<path d="M1025.9 1582.7h11.4l-4.4 12.9h-2.6z" fill="#926328"/>
<path d="M1119.3 1582.7h11.4l-4.4 12.9h-2.6z" fill="#f3401a"/>
<path d="M1193.6 1582.7h11.4l-4.4 12.9h-2.6z" fill="#c4b6ee"/>
<rect x="1212.6" y="1584.2" width="3.2" height="8.4" fill="#c8d63a"/>
<path d="M1227.0 1582.7h11.4l-4.4 12.9h-2.6z" fill="#f3401a"/>
<rect x="1231.1" y="1584.2" width="3.2" height="8.4" fill="#5c7c1e"/>
<path d="M1224.7 1599.7h11.4l-4.4 12.9h-2.6z" fill="#f3401a"/>
<rect x="1228.8" y="1601.2" width="3.2" height="8.4" fill="#5c7c1e"/>
<path d="M462.4 1616.6h11.4l-4.4 12.9h-2.6z" fill="#8d6fa4"/>
<path d="M560.2 1616.6h11.4l-4.4 12.9h-2.6z" fill="#8580d8"/>
<path d="M579.1 1614.8h3.4l3.9 13h-11.2z" fill="#30e6e6"/>
<path d="M602.3 1614.8h3.4l3.9 13h-11.2z" fill="#e02ea6"/>
<path d="M614.8 1616.6h11.4l-4.4 12.9h-2.6z" fill="#f3401a"/>
<rect x="695.8" y="1618.1" width="3.2" height="8.4" fill="#e2433a"/>
<path d="M810.3 1614.8h3.4l3.9 13h-11.2z" fill="#c3c795"/>
<path d="M814.3 1616.6h11.4l-4.4 12.9h-2.6z" fill="#f3401a"/>
<path d="M850.1 1616.6h11.4l-4.4 12.9h-2.6z" fill="#f3401a"/>
<rect x="854.2" y="1618.1" width="3.2" height="8.4" fill="#5c7c1e"/>
<path d="M889.6 1614.8h3.4l3.9 13h-11.2z" fill="#30e6e6"/>
<path d="M892.1 1614.8h3.4l3.9 13h-11.2z" fill="#c3c795"/>
<path d="M915.6 1614.8h3.4l3.9 13h-11.2z" fill="#c3c795"/>
<path d="M977.7 1616.6h11.4l-4.4 12.9h-2.6z" fill="#ea6a4c"/>
<path d="M991.0 1616.6h11.4l-4.4 12.9h-2.6z" fill="#926328"/>
<path d="M1032.6 1616.6h11.4l-4.4 12.9h-2.6z" fill="#926328"/>
<path d="M1123.8 1616.6h11.4l-4.4 12.9h-2.6z" fill="#f3401a"/>
<path d="M1177.7 1616.6h11.4l-4.4 12.9h-2.6z" fill="#f3401a"/>
<path d="M1199.3 1616.6h11.4l-4.4 12.9h-2.6z" fill="#c4b6ee"/>
<path d="M1224.7 1616.6h11.4l-4.4 12.9h-2.6z" fill="#f3401a"/>
<rect x="1228.8" y="1618.1" width="3.2" height="8.4" fill="#5c7c1e"/>
<rect x="1282" y="5.8" width="14.9" height="670.2" fill="#000"/>
<text class="rn" transform="translate(1312.84 334.60) scale(1.3021 1)" style="font-size:40.80px">I</text>
<rect x="1282" y="684.1" width="14.9" height="127.9" fill="#000"/>
<text class="rn" transform="translate(1304.26 754.90) scale(1.2186 1)" style="font-size:40.80px">II</text>
<rect x="1282" y="819.7" width="14.9" height="263.7" fill="#000"/>
<text class="rn" transform="translate(1296.79 964.50) scale(1.1275 1)" style="font-size:40.80px">III</text>
<rect x="1282" y="1091.4" width="14.9" height="142.2" fill="#000"/>
<text class="rn" transform="translate(1296.69 1174.50) scale(1.1990 1)" style="font-size:40.80px">IV</text>
<rect x="1282" y="1245.3" width="14.9" height="173.2" fill="#000"/>
<text class="rn" transform="translate(1308.73 1345.80) scale(1.1625 1)" style="font-size:40.80px">V</text>
<rect x="1282" y="1430.7" width="14.9" height="195.4" fill="#000"/>
<text class="rn" transform="translate(1298.01 1538.00) scale(1.1898 1)" style="font-size:40.80px">VI</text>
<path d="M438.4 1638.5H1268.0M439.5 1639.5V1634.3M1266.9 1639.5V1634.3" stroke="#000" stroke-width="2.2" fill="none"/>
<path d="M646.1 1638.5V1634.5M853.2 1638.5V1634.5M1060.3 1638.5V1634.5" stroke="#000" stroke-width="2.2" fill="none"/>
<text class="ax" transform="translate(432.90 1647.50) scale(1.5140 1)" style="font-size:8.30px">0bp</text>
<text class="ax" transform="translate(640.22 1647.50) scale(1.5210 1)" style="font-size:8.30px">500bp</text>
<text class="ax" transform="translate(847.37 1647.50) scale(1.5331 1)" style="font-size:8.30px">1000bp</text>
<text class="ax" transform="translate(1054.68 1647.50) scale(1.5150 1)" style="font-size:8.30px">1500bp</text>
<text class="ax" transform="translate(1261.06 1647.50) scale(1.5051 1)" style="font-size:8.30px">2000bp</text>
<text class="ax" transform="translate(422.52 1634.80) scale(1.4565 1)" style="font-size:8.80px">5'</text>
<text class="ax" transform="translate(1318.10 1634.80) scale(1.3668 1)" style="font-size:8.80px">3'</text>
<text class="lh" transform="translate(181.37 1669.30) scale(1.0214 1)" style="font-size:24.60px">Legend:</text>
<text class="lh" transform="translate(37.00 1699.60) scale(1.0704 1)" style="font-size:18.70px">Development</text>
<text class="lh" transform="translate(74.70 1733.60) scale(1.0695 1)" style="font-size:18.70px">Hormone</text>
<text class="lh" transform="translate(98.50 1767.90) scale(1.0677 1)" style="font-size:18.70px">Stress</text>
<rect x="179.8" y="1687.0" width="6.4" height="12.3" fill="#e01e7c"/>
<text class="lg" transform="translate(194.70 1699.40) scale(1.0582 1)" style="font-size:16.60px">3-AF1</text>
<rect x="256.3" y="1687.0" width="6.4" height="12.3" fill="#97e22e"/>
<text class="lg" transform="translate(270.31 1699.40) scale(1.0433 1)" style="font-size:16.60px">AAAC-motif</text>
<rect x="375.8" y="1687.0" width="6.4" height="12.3" fill="#7b9c8c"/>
<text class="lg" transform="translate(390.51 1699.40) scale(1.0400 1)" style="font-size:16.60px">ACE</text>
<rect x="504.5" y="1687.0" width="6.4" height="12.3" fill="#3b2a8c"/>
<text class="lg" transform="translate(518.02 1699.40) scale(1.0548 1)" style="font-size:16.60px">C-box</text>
<rect x="622.3" y="1687.0" width="6.4" height="12.3" fill="#5c7c1e"/>
<text class="lg" transform="translate(636.13 1699.40) scale(1.0488 1)" style="font-size:16.60px">G-box</text>
<rect x="696.6" y="1687.0" width="6.4" height="12.3" fill="#c8d63a"/>
<text class="lg" transform="translate(710.52 1699.40) scale(1.0595 1)" style="font-size:16.60px">GT1-motif</text>
<rect x="802.4" y="1687.0" width="6.4" height="12.3" fill="#e2433a"/>
<text class="lg" transform="translate(815.26 1699.40) scale(1.0843 1)" style="font-size:16.60px">MRE</text>
<rect x="929.4" y="1687.0" width="6.4" height="12.3" fill="#1f8c2e"/>
<text class="lg" transform="translate(942.09 1699.40) scale(1.0602 1)" style="font-size:16.60px">MSA-like</text>
<rect x="1027.6" y="1687.0" width="6.4" height="12.3" fill="#8d5c5c"/>
<text class="lg" transform="translate(1041.31 1699.40) scale(1.0547 1)" style="font-size:16.60px">Sp1</text>
<rect x="1156.0" y="1687.0" width="6.4" height="12.3" fill="#eaaaee"/>
<text class="lg" transform="translate(1169.00 1699.40) scale(1.0732 1)" style="font-size:16.60px">circadian</text>
<path d="M178.7 1720.7h8.6l-2.9 13h-2.8z" fill="#f3401a"/>
<text class="lg" transform="translate(194.21 1733.30) scale(1.0404 1)" style="font-size:16.60px">ABRE</text>
<path d="M255.2 1720.7h8.6l-2.9 13h-2.8z" fill="#c918bb"/>
<text class="lg" transform="translate(271.21 1733.30) scale(1.0541 1)" style="font-size:16.60px">AuxRR-core</text>
<path d="M374.7 1720.7h8.6l-2.9 13h-2.8z" fill="#9a50d8"/>
<text class="lg" transform="translate(387.22 1733.30) scale(1.0580 1)" style="font-size:16.60px">CGTCA-motif</text>
<path d="M503.4 1720.7h8.6l-2.9 13h-2.8z" fill="#ea6a4c"/>
<text class="lg" transform="translate(518.52 1733.30) scale(1.0601 1)" style="font-size:16.60px">GARE-motif</text>
<path d="M621.2 1720.7h8.6l-2.9 13h-2.8z" fill="#bfb28c"/>
<text class="lg" transform="translate(636.58 1733.30) scale(1.0686 1)" style="font-size:16.60px">P-box</text>
<path d="M695.5 1720.7h8.6l-2.9 13h-2.8z" fill="#c4b6ee"/>
<text class="lg" transform="translate(711.47 1733.30) scale(1.0410 1)" style="font-size:16.60px">TATC-box</text>
<path d="M801.3 1720.7h8.6l-2.9 13h-2.8z" fill="#8d6fa4"/>
<text class="lg" transform="translate(817.57 1733.30) scale(1.0465 1)" style="font-size:16.60px">TCA-element</text>
<path d="M928.3 1720.7h8.6l-2.9 13h-2.8z" fill="#3ef0ef"/>
<text class="lg" transform="translate(943.77 1733.30) scale(1.0438 1)" style="font-size:16.60px">TGA-box</text>
<path d="M1026.5 1720.7h8.6l-2.9 13h-2.8z" fill="#8580d8"/>
<text class="lg" transform="translate(1041.67 1733.30) scale(1.0429 1)" style="font-size:16.60px">TGA-element</text>
<path d="M1154.9 1720.7h8.6l-2.9 13h-2.8z" fill="#926328"/>
<text class="lg" transform="translate(1171.57 1733.30) scale(1.0481 1)" style="font-size:16.60px">TGACG-motif</text>
<path d="M181.6 1754.8h2.8l3.1 14.2h-9z" fill="#30e6e6"/>
<text class="lg" transform="translate(193.41 1767.80) scale(1.0310 1)" style="font-size:16.60px">ARE</text>
<path d="M258.1 1754.8h2.8l3.1 14.2h-9z" fill="#3c2246"/>
<text class="lg" transform="translate(270.91 1767.80) scale(1.0851 1)" style="font-size:16.60px">AT-rich</text>
<path d="M377.6 1754.8h2.8l3.1 14.2h-9z" fill="#70a290"/>
<text class="lg" transform="translate(390.53 1767.80) scale(1.0523 1)" style="font-size:16.60px">GC-motif</text>
<path d="M506.3 1754.8h2.8l3.1 14.2h-9z" fill="#c3c795"/>
<text class="lg" transform="translate(518.75 1767.80) scale(1.0908 1)" style="font-size:16.60px">LTR</text>
<path d="M624.1 1754.8h2.8l3.1 14.2h-9z" fill="#8585f2"/>
<text class="lg" transform="translate(636.57 1767.80) scale(1.0749 1)" style="font-size:16.60px">MBS</text>
<path d="M698.4 1754.8h2.8l3.1 14.2h-9z" fill="#2f42e0"/>
<text class="lg" transform="translate(711.74 1767.80) scale(1.0987 1)" style="font-size:16.60px">MBSI</text>
<path d="M804.2 1754.8h2.8l3.1 14.2h-9z" fill="#e02ea6"/>
<text class="lg" transform="translate(818.26 1767.80) scale(1.0686 1)" style="font-size:16.60px">TC-rich</text>
<path d="M931.2 1754.8h2.8l3.1 14.2h-9z" fill="#a3e6a3"/>
<text class="lg" transform="translate(945.21 1767.80) scale(1.0445 1)" style="font-size:16.60px">WUN-motif</text>
</svg></body></html>
